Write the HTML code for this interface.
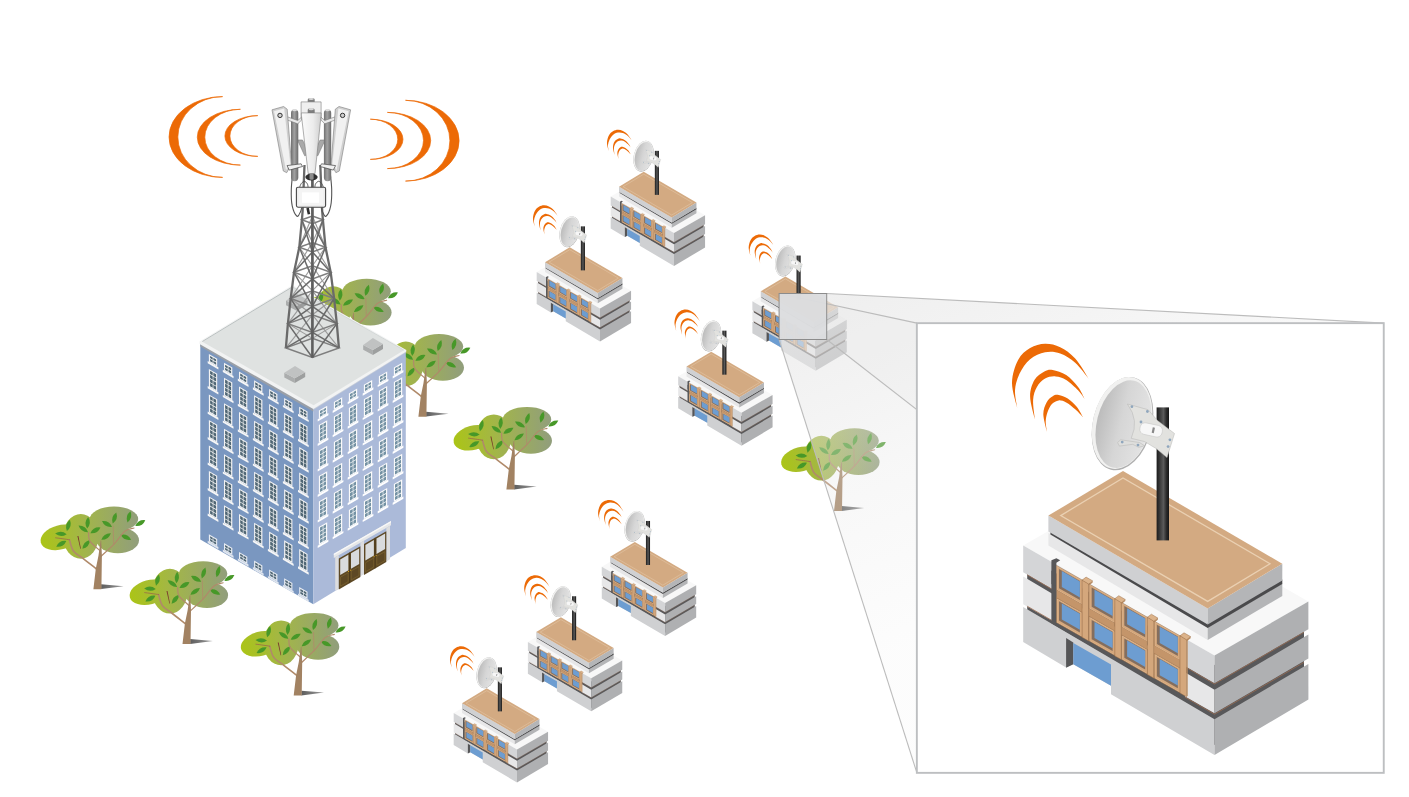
<!DOCTYPE html><html><head><meta charset="utf-8"><title>Wireless network diagram</title><style>html,body{margin:0;padding:0;background:#fff;overflow:hidden}svg{display:block}</style></head><body>
<svg width="1409" height="797" viewBox="0 0 1409 797">
<defs>
<linearGradient id="tg" gradientUnits="userSpaceOnUse" x1="-56.2" y1="0" x2="41.2" y2="0"><stop offset="0" stop-color="#abc418"/><stop offset="0.45" stop-color="#a2b54a"/><stop offset="1" stop-color="#919e7c"/></linearGradient>
<linearGradient id="tsh" x1="0" y1="0" x2="1" y2="0"><stop offset="0" stop-color="#5e5e5e"/><stop offset="1" stop-color="#9a9a9a"/></linearGradient>
<g id="tree">
<polygon points="3.7,-4.9 26.3,-3 3.7,-0.1" fill="url(#tsh)" />
<ellipse cx="-37.3" cy="-51.8" rx="20" ry="12.1" fill="url(#tg)" transform="rotate(-15 -37.3 -51.8)"/>
<ellipse cx="-16.6" cy="-52.8" rx="17.7" ry="22.4" fill="url(#tg)"/>
<ellipse cx="16.6" cy="-70.2" rx="24.2" ry="12.5" fill="url(#tg)"/>
<ellipse cx="20.5" cy="-48.9" rx="21.1" ry="13" fill="url(#tg)"/>
<ellipse cx="3.7" cy="-56" rx="9.2" ry="11.9" fill="url(#tg)"/>
<path d="M-5.8,0Q0,-4.3 5.8,0Q0,4.3 -5.8,0Z" fill="#479828" transform="translate(-29 -63.9) rotate(-75)"/>
<path d="M-5.8,0Q0,-4.3 5.8,0Q0,4.3 -5.8,0Z" fill="#479828" transform="translate(-36.5 -55.3) rotate(3)"/>
<path d="M-5.8,0Q0,-4.3 5.8,0Q0,4.3 -5.8,0Z" fill="#479828" transform="translate(-36.1 -45.4) rotate(-30)"/>
<path d="M-5.8,0Q0,-4.3 5.8,0Q0,4.3 -5.8,0Z" fill="#479828" transform="translate(-9.7 -66.5) rotate(-85)"/>
<path d="M-5.8,0Q0,-4.3 5.8,0Q0,4.3 -5.8,0Z" fill="#479828" transform="translate(-14.1 -60.3) rotate(35)"/>
<path d="M-5.8,0Q0,-4.3 5.8,0Q0,4.3 -5.8,0Z" fill="#479828" transform="translate(-2 -58.9) rotate(-30)"/>
<path d="M-5.8,0Q0,-4.3 5.8,0Q0,4.3 -5.8,0Z" fill="#479828" transform="translate(-11.2 -44.8) rotate(-50)"/>
<path d="M-5.8,0Q0,-4.3 5.8,0Q0,4.3 -5.8,0Z" fill="#479828" transform="translate(9.6 -65.2) rotate(30)"/>
<path d="M-5.8,0Q0,-4.3 5.8,0Q0,4.3 -5.8,0Z" fill="#479828" transform="translate(17.1 -71.1) rotate(-72)"/>
<path d="M-5.8,0Q0,-4.3 5.8,0Q0,4.3 -5.8,0Z" fill="#479828" transform="translate(8.7 -52.7) rotate(-35)"/>
<path d="M-5.8,0Q0,-4.3 5.8,0Q0,4.3 -5.8,0Z" fill="#479828" transform="translate(31.6 -72.4) rotate(-75)"/>
<path d="M-5.8,0Q0,-4.3 5.8,0Q0,4.3 -5.8,0Z" fill="#479828" transform="translate(28.5 -52) rotate(25)"/>
<path d="M-5.8,0Q0,-4.3 5.8,0Q0,4.3 -5.8,0Z" fill="#479828" transform="translate(42.9 -66.1) rotate(-30)"/>
<path d="M-0.9,-20.2C-3.2,-22 -10.9,-27.9 -14.8,-31C-18.6,-34 -21.8,-35.1 -24,-38.2C-26.2,-41.3 -27.3,-47.5 -27.9,-49.4" fill="none" stroke="#b08a6a" stroke-width="1.6" stroke-linecap="round"/>
<path d="M-27.9,-49.4C-29,-49.6 -32.2,-50.1 -34.5,-50.4C-36.8,-50.8 -40.5,-51.2 -41.8,-51.4" fill="none" stroke="#9a6a48" stroke-width="0.8" stroke-linecap="round"/>
<path d="M3,-38.2C1.3,-39.8 -5.5,-45 -7.5,-48.1C-9.5,-51.2 -8.6,-55.2 -8.8,-56.6" fill="none" stroke="#b08a6a" stroke-width="1.2" stroke-linecap="round"/>
<path d="M3.7,-32.9C5.9,-35 12.9,-41.3 16.9,-45.4C20.8,-49.6 24.1,-55.3 27.4,-58C30.7,-60.6 35.1,-60.7 36.6,-61.2" fill="none" stroke="#b08a6a" stroke-width="1.2" stroke-linecap="round"/>
<path d="M16.3,-44.8C16.2,-47.9 15.9,-60.2 15.8,-63.2" fill="none" stroke="#b08a6a" stroke-width="0.8" stroke-linecap="round"/>
<polygon points="-20,-53.1 -19,-53.1 -16.5,-40.4 -17.1,-40.4" fill="#7a3a2c" />
<polygon points="-4,0 4,0 4.5,-33.6 3.8,-48.7 3.2,-48.7 1.1,-33.6 -1.6,-20.4" fill="#a28262" />
</g>
<linearGradient id="poleg" x1="0" y1="0" x2="1" y2="0"><stop offset="0" stop-color="#1c1c1c"/><stop offset="0.55" stop-color="#5a5a5a"/><stop offset="0.8" stop-color="#2a2a2a"/><stop offset="1" stop-color="#161616"/></linearGradient>
<linearGradient id="dishg" x1="0" y1="0" x2="1" y2="0"><stop offset="0" stop-color="#bcbcbc"/><stop offset="0.45" stop-color="#d6d6d6"/><stop offset="1" stop-color="#e4e4e4"/></linearGradient>
<g id="house">
<polygon points="1027.2,560 1214.5,665 1304,612 1304,690 1214.5,745 1027.2,630" fill="#58585a" />
<polygon points="1023.2,545.4 1117.1,491.6 1308.4,601.6 1214.5,655.4" fill="#f8f8f8" />
<polygon points="1023.2,545.4 1214.5,655.4 1214.5,683.2 1023.2,572.3" fill="#d4d5d7" />
<polygon points="1023.2,576.6 1214.5,689.8 1214.5,713.3 1023.2,604.3" fill="#e7e7e8" />
<polygon points="1023.2,607.1 1214.5,719.3 1214.5,755.1 1111,694.2 1111,685.8 1073.3,664.2 1066.1,667.5 1023.2,641.9" fill="#cfd0d2" />
<line x1="1027.2" y1="574.8" x2="1214.5" y2="684" stroke="#9a6c52" stroke-width="0.8" />
<line x1="1027.2" y1="606.2" x2="1214.5" y2="714.2" stroke="#9a6c52" stroke-width="0.8" />
<polygon points="1214.5,655.4 1308.4,601.6 1308.4,629.2 1214.5,683.2" fill="#afb0b2" />
<polygon points="1214.5,689.8 1308.4,634.6 1308.4,658.6 1214.5,713.3" fill="#afb0b2" />
<polygon points="1214.5,719.3 1308.4,664 1308.4,699.4 1214.5,755.1" fill="#afb0b2" />
<line x1="1214.5" y1="684" x2="1304" y2="632.3" stroke="#9a6c52" stroke-width="0.8" />
<line x1="1214.5" y1="714.2" x2="1304" y2="662.3" stroke="#9a6c52" stroke-width="0.8" />
<polygon points="1051.4,570.6 1184.9,647 1184.9,699.7 1051.4,623.3" fill="#58585a" />
<polygon points="1051.4,560.2 1056.4,558.2 1060.2,560.2 1056.4,562.7 1056.4,586.6 1051.4,584" fill="#58585a" />
<polygon points="1056.5,565.5 1082.1,580.1 1082.1,604.7 1056.5,590.1" fill="#e3bd96" stroke="#96683f" stroke-width="0.45" stroke-linejoin="round"/>
<polygon points="1057.4,567 1082.1,581 1082.1,603.8 1057.4,589.8" fill="#d4a77c" />
<polygon points="1059,569 1079.9,580.9 1079.9,600.1 1059,588.3" fill="#846e5e" />
<polygon points="1061.8,571.1 1079.9,581.4 1079.9,597.4 1061.8,587.1" fill="#6d9dd1" />
<polygon points="1056.5,597.9 1060,595.4 1085.6,609.9 1082.1,612.4" fill="#e6c29c" stroke="#96683f" stroke-width="0.45" stroke-linejoin="round"/>
<polygon points="1056.5,589.8 1082.1,604.4 1082.1,612.4 1056.5,597.9" fill="#c4956a" />
<polygon points="1056.5,597.9 1082.1,612.4 1082.1,637 1056.5,622.5" fill="#e3bd96" stroke="#96683f" stroke-width="0.45" stroke-linejoin="round"/>
<polygon points="1057.4,599.3 1082.1,613.3 1082.1,636.1 1057.4,622.1" fill="#d4a77c" />
<polygon points="1059,601.3 1079.9,613.2 1079.9,632.5 1059,620.6" fill="#846e5e" />
<polygon points="1061.8,603.4 1079.9,613.7 1079.9,629.8 1061.8,619.5" fill="#6d9dd1" />
<polygon points="1082.1,579.9 1088.7,583.6 1088.7,641.1 1082.1,637.3" fill="#d4a77c" stroke="#96683f" stroke-width="0.45" stroke-linejoin="round"/>
<polygon points="1088.7,583.6 1089.9,582.8 1089.9,640.3 1088.7,641.1" fill="#b98d63" />
<polygon points="1088.7,584.1 1092.7,580.9 1092.7,582.5 1088.7,585.7" fill="#b98d63" />
<polygon points="1082.1,580.1 1086.1,577.1 1092.7,580.9 1088.7,584.1" fill="#dcb38a" stroke="#96683f" stroke-width="0.45" stroke-linejoin="round"/>
<polygon points="1089.2,584.1 1114.8,598.7 1114.8,623.3 1089.2,608.7" fill="#e3bd96" stroke="#96683f" stroke-width="0.45" stroke-linejoin="round"/>
<polygon points="1090.1,585.5 1114.8,599.6 1114.8,622.4 1090.1,608.3" fill="#d4a77c" />
<polygon points="1091.7,587.6 1112.6,599.4 1112.6,618.7 1091.7,606.8" fill="#846e5e" />
<polygon points="1094.5,589.7 1112.6,599.9 1112.6,616 1094.5,605.7" fill="#6d9dd1" />
<polygon points="1089.2,616.4 1092.7,613.9 1118.3,628.5 1114.8,631" fill="#e6c29c" stroke="#96683f" stroke-width="0.45" stroke-linejoin="round"/>
<polygon points="1089.2,608.4 1114.8,623 1114.8,631 1089.2,616.4" fill="#c4956a" />
<polygon points="1089.2,616.4 1114.8,631 1114.8,655.6 1089.2,641" fill="#e3bd96" stroke="#96683f" stroke-width="0.45" stroke-linejoin="round"/>
<polygon points="1090.1,617.9 1114.8,631.9 1114.8,654.7 1090.1,640.7" fill="#d4a77c" />
<polygon points="1091.7,619.9 1112.6,631.8 1112.6,651 1091.7,639.2" fill="#846e5e" />
<polygon points="1094.5,622 1112.6,632.3 1112.6,648.3 1094.5,638" fill="#6d9dd1" />
<polygon points="1114.8,598.5 1121.3,602.2 1121.3,659.6 1114.8,655.9" fill="#d4a77c" stroke="#96683f" stroke-width="0.45" stroke-linejoin="round"/>
<polygon points="1121.3,602.2 1122.5,601.4 1122.5,658.8 1121.3,659.6" fill="#b98d63" />
<polygon points="1121.3,602.7 1125.3,599.5 1125.3,601.1 1121.3,604.3" fill="#b98d63" />
<polygon points="1114.8,598.7 1118.8,595.7 1125.3,599.5 1121.3,602.7" fill="#dcb38a" stroke="#96683f" stroke-width="0.45" stroke-linejoin="round"/>
<polygon points="1121.8,602.7 1147.4,617.3 1147.4,641.9 1121.8,627.3" fill="#e3bd96" stroke="#96683f" stroke-width="0.45" stroke-linejoin="round"/>
<polygon points="1122.7,604.1 1147.4,618.2 1147.4,641 1122.7,626.9" fill="#d4a77c" />
<polygon points="1124.3,606.1 1145.2,618 1145.2,637.3 1124.3,625.4" fill="#846e5e" />
<polygon points="1127.1,608.2 1145.2,618.5 1145.2,634.6 1127.1,624.3" fill="#6d9dd1" />
<polygon points="1121.8,635 1125.3,632.5 1150.9,647.1 1147.4,649.6" fill="#e6c29c" stroke="#96683f" stroke-width="0.45" stroke-linejoin="round"/>
<polygon points="1121.8,627 1147.4,641.6 1147.4,649.6 1121.8,635" fill="#c4956a" />
<polygon points="1121.8,635 1147.4,649.6 1147.4,674.2 1121.8,659.6" fill="#e3bd96" stroke="#96683f" stroke-width="0.45" stroke-linejoin="round"/>
<polygon points="1122.7,636.4 1147.4,650.5 1147.4,673.3 1122.7,659.2" fill="#d4a77c" />
<polygon points="1124.3,638.5 1145.2,650.3 1145.2,669.6 1124.3,657.7" fill="#846e5e" />
<polygon points="1127.1,640.6 1145.2,650.8 1145.2,666.9 1127.1,656.6" fill="#6d9dd1" />
<polygon points="1147.4,617.1 1153.9,620.8 1153.9,678.2 1147.4,674.5" fill="#d4a77c" stroke="#96683f" stroke-width="0.45" stroke-linejoin="round"/>
<polygon points="1153.9,620.8 1155.1,620 1155.1,677.4 1153.9,678.2" fill="#b98d63" />
<polygon points="1153.9,621.3 1157.9,618.1 1157.9,619.7 1153.9,622.9" fill="#b98d63" />
<polygon points="1147.4,617.2 1151.4,614.2 1157.9,618.1 1153.9,621.3" fill="#dcb38a" stroke="#96683f" stroke-width="0.45" stroke-linejoin="round"/>
<polygon points="1154.4,621.3 1180,635.8 1180,660.4 1154.4,645.9" fill="#e3bd96" stroke="#96683f" stroke-width="0.45" stroke-linejoin="round"/>
<polygon points="1155.3,622.7 1180,636.7 1180,659.5 1155.3,645.5" fill="#d4a77c" />
<polygon points="1156.9,624.7 1177.8,636.6 1177.8,655.9 1156.9,644" fill="#846e5e" />
<polygon points="1159.7,626.8 1177.8,637.1 1177.8,653.2 1159.7,642.9" fill="#6d9dd1" />
<polygon points="1154.4,653.6 1157.9,651.1 1183.5,665.7 1180,668.2" fill="#e6c29c" stroke="#96683f" stroke-width="0.45" stroke-linejoin="round"/>
<polygon points="1154.4,645.6 1180,660.1 1180,668.2 1154.4,653.6" fill="#c4956a" />
<polygon points="1154.4,653.6 1180,668.2 1180,692.8 1154.4,678.2" fill="#e3bd96" stroke="#96683f" stroke-width="0.45" stroke-linejoin="round"/>
<polygon points="1155.3,655 1180,669.1 1180,691.9 1155.3,677.8" fill="#d4a77c" />
<polygon points="1156.9,657 1177.8,668.9 1177.8,688.2 1156.9,676.3" fill="#846e5e" />
<polygon points="1159.7,659.1 1177.8,669.4 1177.8,685.5 1159.7,675.2" fill="#6d9dd1" />
<polygon points="1180,635.6 1186.5,639.3 1186.5,696.8 1180,693.1" fill="#d4a77c" stroke="#96683f" stroke-width="0.45" stroke-linejoin="round"/>
<polygon points="1186.5,639.3 1187.7,638.5 1187.7,696 1186.5,696.8" fill="#b98d63" />
<polygon points="1186.5,639.8 1190.6,636.6 1190.6,638.2 1186.5,641.4" fill="#b98d63" />
<polygon points="1180,635.8 1184,632.8 1190.6,636.6 1186.5,639.8" fill="#dcb38a" stroke="#96683f" stroke-width="0.45" stroke-linejoin="round"/>
<polygon points="1066.1,638.1 1073.3,642.6 1073.3,664.2 1066.1,667.7" fill="#555557" />
<polygon points="1073.3,642.9 1111,664.4 1111,685.8 1073.3,664.2" fill="#6d9dd1" />
<polygon points="1048.4,533 1207.7,627.2 1207.7,639.9 1048.4,545.6" fill="#e7e7e8" />
<polygon points="1207.7,627.2 1282.3,583.4 1282.3,596 1207.7,639.9" fill="#b4b5b7" />
<polygon points="1050.4,530.5 1207.7,623.5 1282.3,579.5 1282.3,584 1207.7,628 1050.4,534.5" fill="#4a4a4c" />
<polygon points="1048.4,515.6 1207.7,608.4 1207.7,624.6 1048.4,531.6" fill="#cfd0d2" />
<polygon points="1207.7,608.4 1282.3,563.7 1282.3,580.4 1207.7,624.6" fill="#b4b5b7" />
<polygon points="1048.4,515.6 1123,470.9 1282.3,563.7 1207.7,608.4" fill="#d3aa82" />
<polygon points="1060.7,515.6 1123,477.9 1270,563.7 1207.7,601.4" fill="none" stroke="#ead0b2" stroke-width="1.3"/>
<rect x="1156.6" y="407.4" width="12.4" height="133" fill="url(#poleg)"/>
<g transform="rotate(14 1122.2 423.2)">
<ellipse cx="1122.6" cy="423.6" rx="29.5" ry="47.5" fill="#b0b0b0"/>
<ellipse cx="1122.0" cy="423.0" rx="29.0" ry="46.8" fill="#f1f1f0"/>
<ellipse cx="1123.6" cy="423.8" rx="26.6" ry="44.6" fill="url(#dishg)"/>
</g>
<polygon points="1117.6,442.5 1120.7,439.8 1139.5,442.5 1144.7,445.8 1138.7,447.3 1132.7,444.3 1119.4,446.1" fill="#dededc" stroke="#b5b5b3" stroke-width="0.5" stroke-linejoin="round"/>
<path d="M1127.4,404L1148.1,409.7L1157.5,420.5L1174.5,433.5L1167,457.6L1156.5,448.8L1144.7,441.6L1131.2,438.3Q1139.5,420.2 1127.4,404Z" fill="#e2e2df" stroke="#b5b5b3" stroke-width="0.5" stroke-linejoin="round"/>
<g transform="rotate(12 1150.8 429.6)"><rect x="1139.9" y="424" width="22.6" height="11.7" rx="5" fill="#f7f7f7" stroke="#c4c4c4" stroke-width="0.5"/><rect x="1152.3" y="427" width="2.2" height="5.5" fill="#888"/></g>
<circle cx="1131.9" cy="406.7" r="1.4" fill="#8fa6bd"/>
<circle cx="1147.4" cy="411.5" r="1.4" fill="#8fa6bd"/>
<circle cx="1122.2" cy="442.1" r="1.4" fill="#8fa6bd"/>
<circle cx="1138" cy="445.1" r="1.4" fill="#8fa6bd"/>
<circle cx="1141" cy="422" r="1.4" fill="#8fa6bd"/>
<circle cx="1169.9" cy="439.8" r="1.4" fill="#8fa6bd"/>
<circle cx="1168.1" cy="446.6" r="1.4" fill="#8fa6bd"/>
<path d="M1017.3,408.3C1016.4,404 1011.9,390.7 1012,382.7C1012.2,374.6 1015,365.9 1018.1,360.1C1021.1,354.3 1025.6,350.8 1030.1,348.1C1034.6,345.3 1040.1,344 1045.1,343.8C1050.2,343.7 1055.2,344.8 1060.2,347.3C1065.2,349.8 1070.5,353.3 1075.2,358.6C1080,363.9 1086.5,375.5 1088.8,378.9C1086.5,376.2 1080,367 1075.2,362.8C1070.5,358.6 1065.2,355.2 1060.2,353.5C1055.2,351.7 1050.2,351.3 1045.1,352.3C1040.1,353.3 1034.4,355.8 1030.1,359.3C1025.8,362.9 1022.1,368.5 1019.6,373.6C1017.1,378.8 1015.4,384.4 1015,390.2C1014.7,396 1016.9,405.2 1017.3,408.3Z" fill="#ec6a06"/>
<path d="M1034.9,419.5C1034.1,415.7 1030.1,402.9 1030.1,396.2C1030,389.6 1032.2,383.8 1034.6,379.7C1037,375.5 1041.4,373.2 1044.4,371.5C1047.4,369.9 1049,369.3 1052.7,369.9C1056.3,370.5 1062,372.3 1066.2,375.1C1070.5,378 1075.2,383.2 1078.3,387.2C1081.3,391.1 1083.5,397 1084.6,398.9C1083.5,397.5 1081.3,393.7 1078.3,390.5C1075.2,387.3 1070,382.3 1066.2,380C1062.5,377.6 1059.2,376.6 1055.7,376.4C1052.2,376.1 1048.3,376.7 1045.1,378.5C1042,380.2 1038.9,383.3 1036.9,386.9C1034.9,390.5 1033.4,394.5 1033.1,400C1032.8,405.4 1034.6,416.3 1034.9,419.5Z" fill="#ec6a06"/>
<path d="M1047,432.3C1046.4,429.3 1043.4,419.3 1043.3,414.3C1043.3,409.3 1045.1,405.2 1046.7,402.2C1048.2,399.2 1050.7,397.4 1052.7,396.2C1054.7,395 1056.2,394.6 1058.7,395C1061.2,395.4 1064.7,396.5 1067.7,398.5C1070.7,400.4 1074.2,403.6 1076.7,406.7C1079.3,409.9 1082,415.5 1083.1,417.3C1081.8,416 1078.1,411.8 1075.2,409.3C1072.4,406.8 1069,404 1066.2,402.5C1063.5,401.1 1061.1,400.2 1058.7,400.4C1056.3,400.7 1053.8,402 1051.9,404C1050,406 1048.4,409.5 1047.4,412.5C1046.4,415.4 1045.8,418.5 1045.7,421.8C1045.7,425.1 1046.8,430.6 1047,432.3Z" fill="#ec6a06"/>
</g>
<linearGradient id="coneg" gradientUnits="userSpaceOnUse" x1="800" y1="316" x2="925" y2="640"><stop offset="0" stop-color="#e8e8e8" stop-opacity="0.68"/><stop offset="0.5" stop-color="#e6e6e6" stop-opacity="0.30"/><stop offset="1" stop-color="#e6e6e6" stop-opacity="0.10"/></linearGradient>
</defs>
<rect width="1409" height="797" fill="#fff"/>
<use href="#tree" x="350" y="361.4" />
<use href="#tree" x="422.4" y="416.7" />
<polygon points="200.3,342.5 313.3,407.5 313.3,604.3 200.3,539.5" fill="#7a97c0" />
<polygon points="313.3,407.5 405.8,351 405.8,548 313.3,604.3" fill="#abbad9" />
<polygon points="200.3,343.5 313.3,408.5 313.3,411.5 200.3,346.5" fill="#9a9fa6" />
<polygon points="313.3,408.5 405.8,351.4 405.8,352.4 313.3,409.9" fill="#c4cbd8" />
<polygon points="199.5,341.5 292.5,285 406.3,350 406.3,351.5 313.3,408.9 199.5,343.9" fill="#f2f3f3" />
<polygon points="202.3,341.7 292.5,287 403.9,350.3 313.6,405.2" fill="#dfe2e1" />
<line x1="202.3" y1="341.5" x2="292.5" y2="286.8" stroke="#b4bbbb" stroke-width="0.9" />
<line x1="292.5" y1="286.8" x2="403.9" y2="350.1" stroke="#c9cece" stroke-width="0.7" />
<polygon points="208.9,354 217.2,358.8 217.2,366.5 208.9,361.7" fill="#f3f3f3" />
<polygon points="207.7,361 218.4,367.2 218.4,369.4 207.7,363.2" fill="#f6f6f6" />
<polygon points="210.1,355.9 212.7,357.4 212.7,359.7 210.1,358.1" fill="#4f6674" />
<polygon points="210.1,358.9 212.7,360.4 212.7,362.7 210.1,361.2" fill="#4f6674" />
<polygon points="213.4,357.8 216.1,359.4 216.1,361.6 213.4,360.1" fill="#4f6674" />
<polygon points="213.4,360.9 216.1,362.4 216.1,364.7 213.4,363.1" fill="#4f6674" />
<polygon points="208.9,368.9 217.2,373.7 217.2,391.6 208.9,386.8" fill="#f3f3f3" />
<polygon points="207.7,386.1 218.4,392.3 218.4,394.5 207.7,388.3" fill="#f6f6f6" />
<polygon points="210.1,370.8 212.7,372.3 212.7,375.6 210.1,374.1" fill="#4f6674" />
<polygon points="210.1,374.8 212.7,376.4 212.7,379.7 210.1,378.1" fill="#4f6674" />
<polygon points="210.1,378.9 212.7,380.4 212.7,383.7 210.1,382.2" fill="#4f6674" />
<polygon points="210.1,383 212.7,384.5 212.7,387.8 210.1,386.3" fill="#4f6674" />
<polygon points="213.4,372.7 216.1,374.3 216.1,377.6 213.4,376.1" fill="#4f6674" />
<polygon points="213.4,376.8 216.1,378.3 216.1,381.6 213.4,380.1" fill="#4f6674" />
<polygon points="213.4,380.9 216.1,382.4 216.1,385.7 213.4,384.2" fill="#4f6674" />
<polygon points="213.4,384.9 216.1,386.5 216.1,389.8 213.4,388.2" fill="#4f6674" />
<polygon points="208.9,394.4 217.2,399.2 217.2,417.1 208.9,412.3" fill="#f3f3f3" />
<polygon points="207.7,411.6 218.4,417.8 218.4,420 207.7,413.8" fill="#f6f6f6" />
<polygon points="210.1,396.3 212.7,397.8 212.7,401.1 210.1,399.6" fill="#4f6674" />
<polygon points="210.1,400.3 212.7,401.9 212.7,405.2 210.1,403.6" fill="#4f6674" />
<polygon points="210.1,404.4 212.7,405.9 212.7,409.2 210.1,407.7" fill="#4f6674" />
<polygon points="210.1,408.5 212.7,410 212.7,413.3 210.1,411.8" fill="#4f6674" />
<polygon points="213.4,398.2 216.1,399.8 216.1,403.1 213.4,401.6" fill="#4f6674" />
<polygon points="213.4,402.3 216.1,403.8 216.1,407.1 213.4,405.6" fill="#4f6674" />
<polygon points="213.4,406.4 216.1,407.9 216.1,411.2 213.4,409.7" fill="#4f6674" />
<polygon points="213.4,410.4 216.1,412 216.1,415.3 213.4,413.7" fill="#4f6674" />
<polygon points="208.9,419.9 217.2,424.7 217.2,442.6 208.9,437.8" fill="#f3f3f3" />
<polygon points="207.7,437.1 218.4,443.3 218.4,445.5 207.7,439.3" fill="#f6f6f6" />
<polygon points="210.1,421.8 212.7,423.3 212.7,426.6 210.1,425.1" fill="#4f6674" />
<polygon points="210.1,425.8 212.7,427.4 212.7,430.7 210.1,429.1" fill="#4f6674" />
<polygon points="210.1,429.9 212.7,431.4 212.7,434.7 210.1,433.2" fill="#4f6674" />
<polygon points="210.1,434 212.7,435.5 212.7,438.8 210.1,437.3" fill="#4f6674" />
<polygon points="213.4,423.7 216.1,425.3 216.1,428.6 213.4,427.1" fill="#4f6674" />
<polygon points="213.4,427.8 216.1,429.3 216.1,432.6 213.4,431.1" fill="#4f6674" />
<polygon points="213.4,431.9 216.1,433.4 216.1,436.7 213.4,435.2" fill="#4f6674" />
<polygon points="213.4,435.9 216.1,437.5 216.1,440.8 213.4,439.2" fill="#4f6674" />
<polygon points="208.9,445.4 217.2,450.2 217.2,468.1 208.9,463.3" fill="#f3f3f3" />
<polygon points="207.7,462.6 218.4,468.8 218.4,471 207.7,464.8" fill="#f6f6f6" />
<polygon points="210.1,447.3 212.7,448.8 212.7,452.1 210.1,450.6" fill="#4f6674" />
<polygon points="210.1,451.3 212.7,452.9 212.7,456.2 210.1,454.6" fill="#4f6674" />
<polygon points="210.1,455.4 212.7,456.9 212.7,460.2 210.1,458.7" fill="#4f6674" />
<polygon points="210.1,459.5 212.7,461 212.7,464.3 210.1,462.8" fill="#4f6674" />
<polygon points="213.4,449.2 216.1,450.8 216.1,454.1 213.4,452.6" fill="#4f6674" />
<polygon points="213.4,453.3 216.1,454.8 216.1,458.1 213.4,456.6" fill="#4f6674" />
<polygon points="213.4,457.4 216.1,458.9 216.1,462.2 213.4,460.7" fill="#4f6674" />
<polygon points="213.4,461.4 216.1,463 216.1,466.3 213.4,464.7" fill="#4f6674" />
<polygon points="208.9,470.9 217.2,475.7 217.2,493.6 208.9,488.8" fill="#f3f3f3" />
<polygon points="207.7,488.1 218.4,494.3 218.4,496.5 207.7,490.3" fill="#f6f6f6" />
<polygon points="210.1,472.8 212.7,474.3 212.7,477.6 210.1,476.1" fill="#4f6674" />
<polygon points="210.1,476.8 212.7,478.4 212.7,481.7 210.1,480.1" fill="#4f6674" />
<polygon points="210.1,480.9 212.7,482.4 212.7,485.7 210.1,484.2" fill="#4f6674" />
<polygon points="210.1,485 212.7,486.5 212.7,489.8 210.1,488.3" fill="#4f6674" />
<polygon points="213.4,474.7 216.1,476.3 216.1,479.6 213.4,478.1" fill="#4f6674" />
<polygon points="213.4,478.8 216.1,480.3 216.1,483.6 213.4,482.1" fill="#4f6674" />
<polygon points="213.4,482.9 216.1,484.4 216.1,487.7 213.4,486.2" fill="#4f6674" />
<polygon points="213.4,486.9 216.1,488.5 216.1,491.8 213.4,490.2" fill="#4f6674" />
<polygon points="208.9,496.4 217.2,501.2 217.2,519.1 208.9,514.3" fill="#f3f3f3" />
<polygon points="207.7,513.6 218.4,519.8 218.4,522 207.7,515.8" fill="#f6f6f6" />
<polygon points="210.1,498.3 212.7,499.8 212.7,503.1 210.1,501.6" fill="#4f6674" />
<polygon points="210.1,502.3 212.7,503.9 212.7,507.2 210.1,505.6" fill="#4f6674" />
<polygon points="210.1,506.4 212.7,507.9 212.7,511.2 210.1,509.7" fill="#4f6674" />
<polygon points="210.1,510.5 212.7,512 212.7,515.3 210.1,513.8" fill="#4f6674" />
<polygon points="213.4,500.2 216.1,501.8 216.1,505.1 213.4,503.6" fill="#4f6674" />
<polygon points="213.4,504.3 216.1,505.8 216.1,509.1 213.4,507.6" fill="#4f6674" />
<polygon points="213.4,508.4 216.1,509.9 216.1,513.2 213.4,511.7" fill="#4f6674" />
<polygon points="213.4,512.4 216.1,514 216.1,517.3 213.4,515.7" fill="#4f6674" />
<polygon points="208.9,534.3 217.2,539.1 217.2,546.3 208.9,541.5" fill="#e9edf3" />
<polygon points="207.7,540.8 218.4,547 218.4,549.2 207.7,543" fill="#dfe5ee" />
<polygon points="210.1,536.2 212.7,537.7 212.7,539.7 210.1,538.2" fill="#4f6674" />
<polygon points="210.1,538.9 212.7,540.5 212.7,542.5 210.1,541" fill="#4f6674" />
<polygon points="213.4,538.1 216.1,539.7 216.1,541.7 213.4,540.2" fill="#4f6674" />
<polygon points="213.4,540.9 216.1,542.4 216.1,544.5 213.4,542.9" fill="#4f6674" />
<polygon points="224,362.8 232.3,367.6 232.3,375.3 224,370.5" fill="#f3f3f3" />
<polygon points="222.8,369.8 233.5,376 233.5,378.2 222.8,372" fill="#f6f6f6" />
<polygon points="225.1,364.7 227.7,366.2 227.7,368.5 225.1,366.9" fill="#4f6674" />
<polygon points="225.1,367.7 227.7,369.2 227.7,371.5 225.1,370" fill="#4f6674" />
<polygon points="228.5,366.6 231.1,368.1 231.1,370.4 228.5,368.9" fill="#4f6674" />
<polygon points="228.5,369.6 231.1,371.2 231.1,373.4 228.5,371.9" fill="#4f6674" />
<polygon points="224,377.7 232.3,382.5 232.3,400.4 224,395.6" fill="#f3f3f3" />
<polygon points="222.8,394.9 233.5,401.1 233.5,403.3 222.8,397.1" fill="#f6f6f6" />
<polygon points="225.1,379.6 227.7,381.1 227.7,384.4 225.1,382.9" fill="#4f6674" />
<polygon points="225.1,383.6 227.7,385.1 227.7,388.5 225.1,386.9" fill="#4f6674" />
<polygon points="225.1,387.7 227.7,389.2 227.7,392.5 225.1,391" fill="#4f6674" />
<polygon points="225.1,391.7 227.7,393.3 227.7,396.6 225.1,395.1" fill="#4f6674" />
<polygon points="228.5,381.5 231.1,383 231.1,386.4 228.5,384.8" fill="#4f6674" />
<polygon points="228.5,385.6 231.1,387.1 231.1,390.4 228.5,388.9" fill="#4f6674" />
<polygon points="228.5,389.6 231.1,391.2 231.1,394.5 228.5,393" fill="#4f6674" />
<polygon points="228.5,393.7 231.1,395.2 231.1,398.5 228.5,397" fill="#4f6674" />
<polygon points="224,403.2 232.3,408 232.3,425.9 224,421.1" fill="#f3f3f3" />
<polygon points="222.8,420.4 233.5,426.6 233.5,428.8 222.8,422.6" fill="#f6f6f6" />
<polygon points="225.1,405.1 227.7,406.6 227.7,409.9 225.1,408.4" fill="#4f6674" />
<polygon points="225.1,409.1 227.7,410.6 227.7,414 225.1,412.4" fill="#4f6674" />
<polygon points="225.1,413.2 227.7,414.7 227.7,418 225.1,416.5" fill="#4f6674" />
<polygon points="225.1,417.2 227.7,418.8 227.7,422.1 225.1,420.6" fill="#4f6674" />
<polygon points="228.5,407 231.1,408.5 231.1,411.9 228.5,410.3" fill="#4f6674" />
<polygon points="228.5,411.1 231.1,412.6 231.1,415.9 228.5,414.4" fill="#4f6674" />
<polygon points="228.5,415.1 231.1,416.7 231.1,420 228.5,418.5" fill="#4f6674" />
<polygon points="228.5,419.2 231.1,420.7 231.1,424 228.5,422.5" fill="#4f6674" />
<polygon points="224,428.7 232.3,433.5 232.3,451.4 224,446.6" fill="#f3f3f3" />
<polygon points="222.8,445.9 233.5,452.1 233.5,454.3 222.8,448.1" fill="#f6f6f6" />
<polygon points="225.1,430.6 227.7,432.1 227.7,435.4 225.1,433.9" fill="#4f6674" />
<polygon points="225.1,434.6 227.7,436.1 227.7,439.5 225.1,437.9" fill="#4f6674" />
<polygon points="225.1,438.7 227.7,440.2 227.7,443.5 225.1,442" fill="#4f6674" />
<polygon points="225.1,442.7 227.7,444.3 227.7,447.6 225.1,446.1" fill="#4f6674" />
<polygon points="228.5,432.5 231.1,434 231.1,437.4 228.5,435.8" fill="#4f6674" />
<polygon points="228.5,436.6 231.1,438.1 231.1,441.4 228.5,439.9" fill="#4f6674" />
<polygon points="228.5,440.6 231.1,442.2 231.1,445.5 228.5,444" fill="#4f6674" />
<polygon points="228.5,444.7 231.1,446.2 231.1,449.5 228.5,448" fill="#4f6674" />
<polygon points="224,454.2 232.3,459 232.3,476.9 224,472.1" fill="#f3f3f3" />
<polygon points="222.8,471.4 233.5,477.6 233.5,479.8 222.8,473.6" fill="#f6f6f6" />
<polygon points="225.1,456.1 227.7,457.6 227.7,460.9 225.1,459.4" fill="#4f6674" />
<polygon points="225.1,460.1 227.7,461.6 227.7,465 225.1,463.4" fill="#4f6674" />
<polygon points="225.1,464.2 227.7,465.7 227.7,469 225.1,467.5" fill="#4f6674" />
<polygon points="225.1,468.2 227.7,469.8 227.7,473.1 225.1,471.6" fill="#4f6674" />
<polygon points="228.5,458 231.1,459.5 231.1,462.9 228.5,461.3" fill="#4f6674" />
<polygon points="228.5,462.1 231.1,463.6 231.1,466.9 228.5,465.4" fill="#4f6674" />
<polygon points="228.5,466.1 231.1,467.7 231.1,471 228.5,469.5" fill="#4f6674" />
<polygon points="228.5,470.2 231.1,471.7 231.1,475 228.5,473.5" fill="#4f6674" />
<polygon points="224,479.7 232.3,484.5 232.3,502.4 224,497.6" fill="#f3f3f3" />
<polygon points="222.8,496.9 233.5,503.1 233.5,505.3 222.8,499.1" fill="#f6f6f6" />
<polygon points="225.1,481.6 227.7,483.1 227.7,486.4 225.1,484.9" fill="#4f6674" />
<polygon points="225.1,485.6 227.7,487.1 227.7,490.5 225.1,488.9" fill="#4f6674" />
<polygon points="225.1,489.7 227.7,491.2 227.7,494.5 225.1,493" fill="#4f6674" />
<polygon points="225.1,493.7 227.7,495.3 227.7,498.6 225.1,497.1" fill="#4f6674" />
<polygon points="228.5,483.5 231.1,485 231.1,488.4 228.5,486.8" fill="#4f6674" />
<polygon points="228.5,487.6 231.1,489.1 231.1,492.4 228.5,490.9" fill="#4f6674" />
<polygon points="228.5,491.6 231.1,493.2 231.1,496.5 228.5,495" fill="#4f6674" />
<polygon points="228.5,495.7 231.1,497.2 231.1,500.5 228.5,499" fill="#4f6674" />
<polygon points="224,505.2 232.3,510 232.3,527.9 224,523.1" fill="#f3f3f3" />
<polygon points="222.8,522.4 233.5,528.6 233.5,530.8 222.8,524.6" fill="#f6f6f6" />
<polygon points="225.1,507.1 227.7,508.6 227.7,511.9 225.1,510.4" fill="#4f6674" />
<polygon points="225.1,511.1 227.7,512.6 227.7,516 225.1,514.4" fill="#4f6674" />
<polygon points="225.1,515.2 227.7,516.7 227.7,520 225.1,518.5" fill="#4f6674" />
<polygon points="225.1,519.2 227.7,520.8 227.7,524.1 225.1,522.6" fill="#4f6674" />
<polygon points="228.5,509 231.1,510.5 231.1,513.9 228.5,512.3" fill="#4f6674" />
<polygon points="228.5,513.1 231.1,514.6 231.1,517.9 228.5,516.4" fill="#4f6674" />
<polygon points="228.5,517.1 231.1,518.7 231.1,522 228.5,520.5" fill="#4f6674" />
<polygon points="228.5,521.2 231.1,522.7 231.1,526 228.5,524.5" fill="#4f6674" />
<polygon points="224,543.1 232.3,547.9 232.3,555.1 224,550.3" fill="#e9edf3" />
<polygon points="222.8,549.6 233.5,555.8 233.5,558 222.8,551.8" fill="#dfe5ee" />
<polygon points="225.1,545 227.7,546.5 227.7,548.5 225.1,547" fill="#4f6674" />
<polygon points="225.1,547.7 227.7,549.3 227.7,551.3 225.1,549.8" fill="#4f6674" />
<polygon points="228.5,546.9 231.1,548.4 231.1,550.5 228.5,548.9" fill="#4f6674" />
<polygon points="228.5,549.7 231.1,551.2 231.1,553.2 228.5,551.7" fill="#4f6674" />
<polygon points="239,371.6 247.3,376.4 247.3,384.1 239,379.3" fill="#f3f3f3" />
<polygon points="237.8,378.6 248.5,384.8 248.5,387 237.8,380.8" fill="#f6f6f6" />
<polygon points="240.2,373.4 242.8,375 242.8,377.2 240.2,375.7" fill="#4f6674" />
<polygon points="240.2,376.5 242.8,378 242.8,380.3 240.2,378.7" fill="#4f6674" />
<polygon points="243.5,375.4 246.2,376.9 246.2,379.2 243.5,377.7" fill="#4f6674" />
<polygon points="243.5,378.4 246.2,380 246.2,382.2 243.5,380.7" fill="#4f6674" />
<polygon points="239,386.5 247.3,391.3 247.3,409.2 239,404.4" fill="#f3f3f3" />
<polygon points="237.8,403.7 248.5,409.9 248.5,412.1 237.8,405.9" fill="#f6f6f6" />
<polygon points="240.2,388.3 242.8,389.9 242.8,393.2 240.2,391.6" fill="#4f6674" />
<polygon points="240.2,392.4 242.8,393.9 242.8,397.2 240.2,395.7" fill="#4f6674" />
<polygon points="240.2,396.5 242.8,398 242.8,401.3 240.2,399.8" fill="#4f6674" />
<polygon points="240.2,400.5 242.8,402 242.8,405.4 240.2,403.8" fill="#4f6674" />
<polygon points="243.5,390.3 246.2,391.8 246.2,395.1 243.5,393.6" fill="#4f6674" />
<polygon points="243.5,394.4 246.2,395.9 246.2,399.2 243.5,397.7" fill="#4f6674" />
<polygon points="243.5,398.4 246.2,400 246.2,403.3 243.5,401.7" fill="#4f6674" />
<polygon points="243.5,402.5 246.2,404 246.2,407.3 243.5,405.8" fill="#4f6674" />
<polygon points="239,412 247.3,416.8 247.3,434.7 239,429.9" fill="#f3f3f3" />
<polygon points="237.8,429.2 248.5,435.4 248.5,437.6 237.8,431.4" fill="#f6f6f6" />
<polygon points="240.2,413.8 242.8,415.4 242.8,418.7 240.2,417.1" fill="#4f6674" />
<polygon points="240.2,417.9 242.8,419.4 242.8,422.7 240.2,421.2" fill="#4f6674" />
<polygon points="240.2,422 242.8,423.5 242.8,426.8 240.2,425.3" fill="#4f6674" />
<polygon points="240.2,426 242.8,427.5 242.8,430.9 240.2,429.3" fill="#4f6674" />
<polygon points="243.5,415.8 246.2,417.3 246.2,420.6 243.5,419.1" fill="#4f6674" />
<polygon points="243.5,419.9 246.2,421.4 246.2,424.7 243.5,423.2" fill="#4f6674" />
<polygon points="243.5,423.9 246.2,425.5 246.2,428.8 243.5,427.2" fill="#4f6674" />
<polygon points="243.5,428 246.2,429.5 246.2,432.8 243.5,431.3" fill="#4f6674" />
<polygon points="239,437.5 247.3,442.3 247.3,460.2 239,455.4" fill="#f3f3f3" />
<polygon points="237.8,454.7 248.5,460.9 248.5,463.1 237.8,456.9" fill="#f6f6f6" />
<polygon points="240.2,439.3 242.8,440.9 242.8,444.2 240.2,442.6" fill="#4f6674" />
<polygon points="240.2,443.4 242.8,444.9 242.8,448.2 240.2,446.7" fill="#4f6674" />
<polygon points="240.2,447.5 242.8,449 242.8,452.3 240.2,450.8" fill="#4f6674" />
<polygon points="240.2,451.5 242.8,453 242.8,456.4 240.2,454.8" fill="#4f6674" />
<polygon points="243.5,441.3 246.2,442.8 246.2,446.1 243.5,444.6" fill="#4f6674" />
<polygon points="243.5,445.4 246.2,446.9 246.2,450.2 243.5,448.7" fill="#4f6674" />
<polygon points="243.5,449.4 246.2,451 246.2,454.3 243.5,452.7" fill="#4f6674" />
<polygon points="243.5,453.5 246.2,455 246.2,458.3 243.5,456.8" fill="#4f6674" />
<polygon points="239,463 247.3,467.8 247.3,485.7 239,480.9" fill="#f3f3f3" />
<polygon points="237.8,480.2 248.5,486.4 248.5,488.6 237.8,482.4" fill="#f6f6f6" />
<polygon points="240.2,464.8 242.8,466.4 242.8,469.7 240.2,468.1" fill="#4f6674" />
<polygon points="240.2,468.9 242.8,470.4 242.8,473.7 240.2,472.2" fill="#4f6674" />
<polygon points="240.2,473 242.8,474.5 242.8,477.8 240.2,476.3" fill="#4f6674" />
<polygon points="240.2,477 242.8,478.5 242.8,481.9 240.2,480.3" fill="#4f6674" />
<polygon points="243.5,466.8 246.2,468.3 246.2,471.6 243.5,470.1" fill="#4f6674" />
<polygon points="243.5,470.9 246.2,472.4 246.2,475.7 243.5,474.2" fill="#4f6674" />
<polygon points="243.5,474.9 246.2,476.5 246.2,479.8 243.5,478.2" fill="#4f6674" />
<polygon points="243.5,479 246.2,480.5 246.2,483.8 243.5,482.3" fill="#4f6674" />
<polygon points="239,488.5 247.3,493.3 247.3,511.2 239,506.4" fill="#f3f3f3" />
<polygon points="237.8,505.7 248.5,511.9 248.5,514.1 237.8,507.9" fill="#f6f6f6" />
<polygon points="240.2,490.3 242.8,491.9 242.8,495.2 240.2,493.6" fill="#4f6674" />
<polygon points="240.2,494.4 242.8,495.9 242.8,499.2 240.2,497.7" fill="#4f6674" />
<polygon points="240.2,498.5 242.8,500 242.8,503.3 240.2,501.8" fill="#4f6674" />
<polygon points="240.2,502.5 242.8,504 242.8,507.4 240.2,505.8" fill="#4f6674" />
<polygon points="243.5,492.3 246.2,493.8 246.2,497.1 243.5,495.6" fill="#4f6674" />
<polygon points="243.5,496.4 246.2,497.9 246.2,501.2 243.5,499.7" fill="#4f6674" />
<polygon points="243.5,500.4 246.2,502 246.2,505.3 243.5,503.7" fill="#4f6674" />
<polygon points="243.5,504.5 246.2,506 246.2,509.3 243.5,507.8" fill="#4f6674" />
<polygon points="239,514 247.3,518.8 247.3,536.7 239,531.9" fill="#f3f3f3" />
<polygon points="237.8,531.2 248.5,537.4 248.5,539.6 237.8,533.4" fill="#f6f6f6" />
<polygon points="240.2,515.8 242.8,517.4 242.8,520.7 240.2,519.1" fill="#4f6674" />
<polygon points="240.2,519.9 242.8,521.4 242.8,524.7 240.2,523.2" fill="#4f6674" />
<polygon points="240.2,524 242.8,525.5 242.8,528.8 240.2,527.3" fill="#4f6674" />
<polygon points="240.2,528 242.8,529.5 242.8,532.9 240.2,531.3" fill="#4f6674" />
<polygon points="243.5,517.8 246.2,519.3 246.2,522.6 243.5,521.1" fill="#4f6674" />
<polygon points="243.5,521.9 246.2,523.4 246.2,526.7 243.5,525.2" fill="#4f6674" />
<polygon points="243.5,525.9 246.2,527.5 246.2,530.8 243.5,529.2" fill="#4f6674" />
<polygon points="243.5,530 246.2,531.5 246.2,534.8 243.5,533.3" fill="#4f6674" />
<polygon points="239,551.9 247.3,556.7 247.3,563.9 239,559.1" fill="#e9edf3" />
<polygon points="237.8,558.4 248.5,564.6 248.5,566.8 237.8,560.6" fill="#dfe5ee" />
<polygon points="240.2,553.7 242.8,555.3 242.8,557.3 240.2,555.8" fill="#4f6674" />
<polygon points="240.2,556.5 242.8,558 242.8,560.1 240.2,558.5" fill="#4f6674" />
<polygon points="243.5,555.7 246.2,557.2 246.2,559.3 243.5,557.7" fill="#4f6674" />
<polygon points="243.5,558.5 246.2,560 246.2,562 243.5,560.5" fill="#4f6674" />
<polygon points="254.1,380.3 262.4,385.2 262.4,392.9 254.1,388" fill="#f3f3f3" />
<polygon points="252.9,387.3 263.6,393.6 263.6,395.8 252.9,389.5" fill="#f6f6f6" />
<polygon points="255.2,382.2 257.8,383.7 257.8,386 255.2,384.5" fill="#4f6674" />
<polygon points="255.2,385.2 257.8,386.8 257.8,389 255.2,387.5" fill="#4f6674" />
<polygon points="258.6,384.2 261.2,385.7 261.2,388 258.6,386.5" fill="#4f6674" />
<polygon points="258.6,387.2 261.2,388.7 261.2,391 258.6,389.5" fill="#4f6674" />
<polygon points="254.1,395.2 262.4,400.1 262.4,418 254.1,413.1" fill="#f3f3f3" />
<polygon points="252.9,412.4 263.6,418.7 263.6,420.9 252.9,414.6" fill="#f6f6f6" />
<polygon points="255.2,397.1 257.8,398.6 257.8,402 255.2,400.4" fill="#4f6674" />
<polygon points="255.2,401.2 257.8,402.7 257.8,406 255.2,404.5" fill="#4f6674" />
<polygon points="255.2,405.2 257.8,406.8 257.8,410.1 255.2,408.5" fill="#4f6674" />
<polygon points="255.2,409.3 257.8,410.8 257.8,414.1 255.2,412.6" fill="#4f6674" />
<polygon points="258.6,399.1 261.2,400.6 261.2,403.9 258.6,402.4" fill="#4f6674" />
<polygon points="258.6,403.1 261.2,404.7 261.2,408 258.6,406.5" fill="#4f6674" />
<polygon points="258.6,407.2 261.2,408.7 261.2,412 258.6,410.5" fill="#4f6674" />
<polygon points="258.6,411.3 261.2,412.8 261.2,416.1 258.6,414.6" fill="#4f6674" />
<polygon points="254.1,420.7 262.4,425.6 262.4,443.5 254.1,438.6" fill="#f3f3f3" />
<polygon points="252.9,437.9 263.6,444.2 263.6,446.4 252.9,440.1" fill="#f6f6f6" />
<polygon points="255.2,422.6 257.8,424.1 257.8,427.5 255.2,425.9" fill="#4f6674" />
<polygon points="255.2,426.7 257.8,428.2 257.8,431.5 255.2,430" fill="#4f6674" />
<polygon points="255.2,430.7 257.8,432.3 257.8,435.6 255.2,434" fill="#4f6674" />
<polygon points="255.2,434.8 257.8,436.3 257.8,439.6 255.2,438.1" fill="#4f6674" />
<polygon points="258.6,424.6 261.2,426.1 261.2,429.4 258.6,427.9" fill="#4f6674" />
<polygon points="258.6,428.6 261.2,430.2 261.2,433.5 258.6,432" fill="#4f6674" />
<polygon points="258.6,432.7 261.2,434.2 261.2,437.5 258.6,436" fill="#4f6674" />
<polygon points="258.6,436.8 261.2,438.3 261.2,441.6 258.6,440.1" fill="#4f6674" />
<polygon points="254.1,446.2 262.4,451.1 262.4,469 254.1,464.1" fill="#f3f3f3" />
<polygon points="252.9,463.4 263.6,469.7 263.6,471.9 252.9,465.6" fill="#f6f6f6" />
<polygon points="255.2,448.1 257.8,449.6 257.8,453 255.2,451.4" fill="#4f6674" />
<polygon points="255.2,452.2 257.8,453.7 257.8,457 255.2,455.5" fill="#4f6674" />
<polygon points="255.2,456.2 257.8,457.8 257.8,461.1 255.2,459.5" fill="#4f6674" />
<polygon points="255.2,460.3 257.8,461.8 257.8,465.1 255.2,463.6" fill="#4f6674" />
<polygon points="258.6,450.1 261.2,451.6 261.2,454.9 258.6,453.4" fill="#4f6674" />
<polygon points="258.6,454.1 261.2,455.7 261.2,459 258.6,457.5" fill="#4f6674" />
<polygon points="258.6,458.2 261.2,459.7 261.2,463 258.6,461.5" fill="#4f6674" />
<polygon points="258.6,462.3 261.2,463.8 261.2,467.1 258.6,465.6" fill="#4f6674" />
<polygon points="254.1,471.7 262.4,476.6 262.4,494.5 254.1,489.6" fill="#f3f3f3" />
<polygon points="252.9,488.9 263.6,495.2 263.6,497.4 252.9,491.1" fill="#f6f6f6" />
<polygon points="255.2,473.6 257.8,475.1 257.8,478.5 255.2,476.9" fill="#4f6674" />
<polygon points="255.2,477.7 257.8,479.2 257.8,482.5 255.2,481" fill="#4f6674" />
<polygon points="255.2,481.7 257.8,483.3 257.8,486.6 255.2,485" fill="#4f6674" />
<polygon points="255.2,485.8 257.8,487.3 257.8,490.6 255.2,489.1" fill="#4f6674" />
<polygon points="258.6,475.6 261.2,477.1 261.2,480.4 258.6,478.9" fill="#4f6674" />
<polygon points="258.6,479.6 261.2,481.2 261.2,484.5 258.6,483" fill="#4f6674" />
<polygon points="258.6,483.7 261.2,485.2 261.2,488.5 258.6,487" fill="#4f6674" />
<polygon points="258.6,487.8 261.2,489.3 261.2,492.6 258.6,491.1" fill="#4f6674" />
<polygon points="254.1,497.2 262.4,502.1 262.4,520 254.1,515.1" fill="#f3f3f3" />
<polygon points="252.9,514.4 263.6,520.7 263.6,522.9 252.9,516.6" fill="#f6f6f6" />
<polygon points="255.2,499.1 257.8,500.6 257.8,504 255.2,502.4" fill="#4f6674" />
<polygon points="255.2,503.2 257.8,504.7 257.8,508 255.2,506.5" fill="#4f6674" />
<polygon points="255.2,507.2 257.8,508.8 257.8,512.1 255.2,510.5" fill="#4f6674" />
<polygon points="255.2,511.3 257.8,512.8 257.8,516.1 255.2,514.6" fill="#4f6674" />
<polygon points="258.6,501.1 261.2,502.6 261.2,505.9 258.6,504.4" fill="#4f6674" />
<polygon points="258.6,505.1 261.2,506.7 261.2,510 258.6,508.5" fill="#4f6674" />
<polygon points="258.6,509.2 261.2,510.7 261.2,514 258.6,512.5" fill="#4f6674" />
<polygon points="258.6,513.3 261.2,514.8 261.2,518.1 258.6,516.6" fill="#4f6674" />
<polygon points="254.1,522.7 262.4,527.6 262.4,545.5 254.1,540.6" fill="#f3f3f3" />
<polygon points="252.9,539.9 263.6,546.2 263.6,548.4 252.9,542.1" fill="#f6f6f6" />
<polygon points="255.2,524.6 257.8,526.1 257.8,529.5 255.2,527.9" fill="#4f6674" />
<polygon points="255.2,528.7 257.8,530.2 257.8,533.5 255.2,532" fill="#4f6674" />
<polygon points="255.2,532.7 257.8,534.3 257.8,537.6 255.2,536" fill="#4f6674" />
<polygon points="255.2,536.8 257.8,538.3 257.8,541.6 255.2,540.1" fill="#4f6674" />
<polygon points="258.6,526.6 261.2,528.1 261.2,531.4 258.6,529.9" fill="#4f6674" />
<polygon points="258.6,530.6 261.2,532.2 261.2,535.5 258.6,534" fill="#4f6674" />
<polygon points="258.6,534.7 261.2,536.2 261.2,539.5 258.6,538" fill="#4f6674" />
<polygon points="258.6,538.8 261.2,540.3 261.2,543.6 258.6,542.1" fill="#4f6674" />
<polygon points="254.1,560.6 262.4,565.5 262.4,572.7 254.1,567.8" fill="#e9edf3" />
<polygon points="252.9,567.1 263.6,573.4 263.6,575.6 252.9,569.3" fill="#dfe5ee" />
<polygon points="255.2,562.5 257.8,564 257.8,566.1 255.2,564.5" fill="#4f6674" />
<polygon points="255.2,565.3 257.8,566.8 257.8,568.8 255.2,567.3" fill="#4f6674" />
<polygon points="258.6,564.5 261.2,566 261.2,568 258.6,566.5" fill="#4f6674" />
<polygon points="258.6,567.3 261.2,568.8 261.2,570.8 258.6,569.3" fill="#4f6674" />
<polygon points="269.1,389.1 277.4,394 277.4,401.7 269.1,396.8" fill="#f3f3f3" />
<polygon points="267.9,396.1 278.6,402.4 278.6,404.6 267.9,398.3" fill="#f6f6f6" />
<polygon points="270.2,391 272.9,392.5 272.9,394.8 270.2,393.3" fill="#4f6674" />
<polygon points="270.2,394 272.9,395.5 272.9,397.8 270.2,396.3" fill="#4f6674" />
<polygon points="273.6,393 276.2,394.5 276.2,396.8 273.6,395.2" fill="#4f6674" />
<polygon points="273.6,396 276.2,397.5 276.2,399.8 273.6,398.3" fill="#4f6674" />
<polygon points="269.1,404 277.4,408.9 277.4,426.8 269.1,421.9" fill="#f3f3f3" />
<polygon points="267.9,421.2 278.6,427.5 278.6,429.7 267.9,423.4" fill="#f6f6f6" />
<polygon points="270.2,405.9 272.9,407.4 272.9,410.7 270.2,409.2" fill="#4f6674" />
<polygon points="270.2,410 272.9,411.5 272.9,414.8 270.2,413.3" fill="#4f6674" />
<polygon points="270.2,414 272.9,415.5 272.9,418.9 270.2,417.3" fill="#4f6674" />
<polygon points="270.2,418.1 272.9,419.6 272.9,422.9 270.2,421.4" fill="#4f6674" />
<polygon points="273.6,407.9 276.2,409.4 276.2,412.7 273.6,411.2" fill="#4f6674" />
<polygon points="273.6,411.9 276.2,413.5 276.2,416.8 273.6,415.2" fill="#4f6674" />
<polygon points="273.6,416 276.2,417.5 276.2,420.8 273.6,419.3" fill="#4f6674" />
<polygon points="273.6,420 276.2,421.6 276.2,424.9 273.6,423.4" fill="#4f6674" />
<polygon points="269.1,429.5 277.4,434.4 277.4,452.3 269.1,447.4" fill="#f3f3f3" />
<polygon points="267.9,446.7 278.6,453 278.6,455.2 267.9,448.9" fill="#f6f6f6" />
<polygon points="270.2,431.4 272.9,432.9 272.9,436.2 270.2,434.7" fill="#4f6674" />
<polygon points="270.2,435.5 272.9,437 272.9,440.3 270.2,438.8" fill="#4f6674" />
<polygon points="270.2,439.5 272.9,441 272.9,444.4 270.2,442.8" fill="#4f6674" />
<polygon points="270.2,443.6 272.9,445.1 272.9,448.4 270.2,446.9" fill="#4f6674" />
<polygon points="273.6,433.4 276.2,434.9 276.2,438.2 273.6,436.7" fill="#4f6674" />
<polygon points="273.6,437.4 276.2,439 276.2,442.3 273.6,440.7" fill="#4f6674" />
<polygon points="273.6,441.5 276.2,443 276.2,446.3 273.6,444.8" fill="#4f6674" />
<polygon points="273.6,445.5 276.2,447.1 276.2,450.4 273.6,448.9" fill="#4f6674" />
<polygon points="269.1,455 277.4,459.9 277.4,477.8 269.1,472.9" fill="#f3f3f3" />
<polygon points="267.9,472.2 278.6,478.5 278.6,480.7 267.9,474.4" fill="#f6f6f6" />
<polygon points="270.2,456.9 272.9,458.4 272.9,461.7 270.2,460.2" fill="#4f6674" />
<polygon points="270.2,461 272.9,462.5 272.9,465.8 270.2,464.3" fill="#4f6674" />
<polygon points="270.2,465 272.9,466.5 272.9,469.9 270.2,468.3" fill="#4f6674" />
<polygon points="270.2,469.1 272.9,470.6 272.9,473.9 270.2,472.4" fill="#4f6674" />
<polygon points="273.6,458.9 276.2,460.4 276.2,463.7 273.6,462.2" fill="#4f6674" />
<polygon points="273.6,462.9 276.2,464.5 276.2,467.8 273.6,466.2" fill="#4f6674" />
<polygon points="273.6,467 276.2,468.5 276.2,471.8 273.6,470.3" fill="#4f6674" />
<polygon points="273.6,471 276.2,472.6 276.2,475.9 273.6,474.4" fill="#4f6674" />
<polygon points="269.1,480.5 277.4,485.4 277.4,503.3 269.1,498.4" fill="#f3f3f3" />
<polygon points="267.9,497.7 278.6,504 278.6,506.2 267.9,499.9" fill="#f6f6f6" />
<polygon points="270.2,482.4 272.9,483.9 272.9,487.2 270.2,485.7" fill="#4f6674" />
<polygon points="270.2,486.5 272.9,488 272.9,491.3 270.2,489.8" fill="#4f6674" />
<polygon points="270.2,490.5 272.9,492 272.9,495.4 270.2,493.8" fill="#4f6674" />
<polygon points="270.2,494.6 272.9,496.1 272.9,499.4 270.2,497.9" fill="#4f6674" />
<polygon points="273.6,484.4 276.2,485.9 276.2,489.2 273.6,487.7" fill="#4f6674" />
<polygon points="273.6,488.4 276.2,490 276.2,493.3 273.6,491.7" fill="#4f6674" />
<polygon points="273.6,492.5 276.2,494 276.2,497.3 273.6,495.8" fill="#4f6674" />
<polygon points="273.6,496.5 276.2,498.1 276.2,501.4 273.6,499.9" fill="#4f6674" />
<polygon points="269.1,506 277.4,510.9 277.4,528.8 269.1,523.9" fill="#f3f3f3" />
<polygon points="267.9,523.2 278.6,529.5 278.6,531.7 267.9,525.4" fill="#f6f6f6" />
<polygon points="270.2,507.9 272.9,509.4 272.9,512.7 270.2,511.2" fill="#4f6674" />
<polygon points="270.2,512 272.9,513.5 272.9,516.8 270.2,515.3" fill="#4f6674" />
<polygon points="270.2,516 272.9,517.5 272.9,520.9 270.2,519.3" fill="#4f6674" />
<polygon points="270.2,520.1 272.9,521.6 272.9,524.9 270.2,523.4" fill="#4f6674" />
<polygon points="273.6,509.9 276.2,511.4 276.2,514.7 273.6,513.2" fill="#4f6674" />
<polygon points="273.6,513.9 276.2,515.5 276.2,518.8 273.6,517.2" fill="#4f6674" />
<polygon points="273.6,518 276.2,519.5 276.2,522.8 273.6,521.3" fill="#4f6674" />
<polygon points="273.6,522 276.2,523.6 276.2,526.9 273.6,525.4" fill="#4f6674" />
<polygon points="269.1,531.5 277.4,536.4 277.4,554.3 269.1,549.4" fill="#f3f3f3" />
<polygon points="267.9,548.7 278.6,555 278.6,557.2 267.9,550.9" fill="#f6f6f6" />
<polygon points="270.2,533.4 272.9,534.9 272.9,538.2 270.2,536.7" fill="#4f6674" />
<polygon points="270.2,537.5 272.9,539 272.9,542.3 270.2,540.8" fill="#4f6674" />
<polygon points="270.2,541.5 272.9,543 272.9,546.4 270.2,544.8" fill="#4f6674" />
<polygon points="270.2,545.6 272.9,547.1 272.9,550.4 270.2,548.9" fill="#4f6674" />
<polygon points="273.6,535.4 276.2,536.9 276.2,540.2 273.6,538.7" fill="#4f6674" />
<polygon points="273.6,539.4 276.2,541 276.2,544.3 273.6,542.7" fill="#4f6674" />
<polygon points="273.6,543.5 276.2,545 276.2,548.3 273.6,546.8" fill="#4f6674" />
<polygon points="273.6,547.5 276.2,549.1 276.2,552.4 273.6,550.9" fill="#4f6674" />
<polygon points="269.1,569.4 277.4,574.3 277.4,581.5 269.1,576.6" fill="#e9edf3" />
<polygon points="267.9,575.9 278.6,582.2 278.6,584.4 267.9,578.1" fill="#dfe5ee" />
<polygon points="270.2,571.3 272.9,572.8 272.9,574.8 270.2,573.3" fill="#4f6674" />
<polygon points="270.2,574.1 272.9,575.6 272.9,577.6 270.2,576.1" fill="#4f6674" />
<polygon points="273.6,573.3 276.2,574.8 276.2,576.8 273.6,575.3" fill="#4f6674" />
<polygon points="273.6,576 276.2,577.6 276.2,579.6 273.6,578.1" fill="#4f6674" />
<polygon points="284.1,397.9 292.4,402.7 292.4,410.4 284.1,405.6" fill="#f3f3f3" />
<polygon points="282.9,404.9 293.6,411.1 293.6,413.3 282.9,407.1" fill="#f6f6f6" />
<polygon points="285.3,399.8 287.9,401.3 287.9,403.6 285.3,402" fill="#4f6674" />
<polygon points="285.3,402.8 287.9,404.3 287.9,406.6 285.3,405.1" fill="#4f6674" />
<polygon points="288.7,401.7 291.3,403.3 291.3,405.5 288.7,404" fill="#4f6674" />
<polygon points="288.7,404.8 291.3,406.3 291.3,408.6 288.7,407" fill="#4f6674" />
<polygon points="284.1,412.8 292.4,417.6 292.4,435.5 284.1,430.7" fill="#f3f3f3" />
<polygon points="282.9,430 293.6,436.2 293.6,438.4 282.9,432.2" fill="#f6f6f6" />
<polygon points="285.3,414.7 287.9,416.2 287.9,419.5 285.3,418" fill="#4f6674" />
<polygon points="285.3,418.7 287.9,420.3 287.9,423.6 285.3,422" fill="#4f6674" />
<polygon points="285.3,422.8 287.9,424.3 287.9,427.6 285.3,426.1" fill="#4f6674" />
<polygon points="285.3,426.9 287.9,428.4 287.9,431.7 285.3,430.2" fill="#4f6674" />
<polygon points="288.7,416.6 291.3,418.2 291.3,421.5 288.7,420" fill="#4f6674" />
<polygon points="288.7,420.7 291.3,422.2 291.3,425.5 288.7,424" fill="#4f6674" />
<polygon points="288.7,424.8 291.3,426.3 291.3,429.6 288.7,428.1" fill="#4f6674" />
<polygon points="288.7,428.8 291.3,430.4 291.3,433.7 288.7,432.1" fill="#4f6674" />
<polygon points="284.1,438.3 292.4,443.1 292.4,461 284.1,456.2" fill="#f3f3f3" />
<polygon points="282.9,455.5 293.6,461.7 293.6,463.9 282.9,457.7" fill="#f6f6f6" />
<polygon points="285.3,440.2 287.9,441.7 287.9,445 285.3,443.5" fill="#4f6674" />
<polygon points="285.3,444.2 287.9,445.8 287.9,449.1 285.3,447.5" fill="#4f6674" />
<polygon points="285.3,448.3 287.9,449.8 287.9,453.1 285.3,451.6" fill="#4f6674" />
<polygon points="285.3,452.4 287.9,453.9 287.9,457.2 285.3,455.7" fill="#4f6674" />
<polygon points="288.7,442.1 291.3,443.7 291.3,447 288.7,445.5" fill="#4f6674" />
<polygon points="288.7,446.2 291.3,447.7 291.3,451 288.7,449.5" fill="#4f6674" />
<polygon points="288.7,450.3 291.3,451.8 291.3,455.1 288.7,453.6" fill="#4f6674" />
<polygon points="288.7,454.3 291.3,455.9 291.3,459.2 288.7,457.6" fill="#4f6674" />
<polygon points="284.1,463.8 292.4,468.6 292.4,486.5 284.1,481.7" fill="#f3f3f3" />
<polygon points="282.9,481 293.6,487.2 293.6,489.4 282.9,483.2" fill="#f6f6f6" />
<polygon points="285.3,465.7 287.9,467.2 287.9,470.5 285.3,469" fill="#4f6674" />
<polygon points="285.3,469.7 287.9,471.3 287.9,474.6 285.3,473" fill="#4f6674" />
<polygon points="285.3,473.8 287.9,475.3 287.9,478.6 285.3,477.1" fill="#4f6674" />
<polygon points="285.3,477.9 287.9,479.4 287.9,482.7 285.3,481.2" fill="#4f6674" />
<polygon points="288.7,467.6 291.3,469.2 291.3,472.5 288.7,471" fill="#4f6674" />
<polygon points="288.7,471.7 291.3,473.2 291.3,476.5 288.7,475" fill="#4f6674" />
<polygon points="288.7,475.8 291.3,477.3 291.3,480.6 288.7,479.1" fill="#4f6674" />
<polygon points="288.7,479.8 291.3,481.4 291.3,484.7 288.7,483.1" fill="#4f6674" />
<polygon points="284.1,489.3 292.4,494.1 292.4,512 284.1,507.2" fill="#f3f3f3" />
<polygon points="282.9,506.5 293.6,512.7 293.6,514.9 282.9,508.7" fill="#f6f6f6" />
<polygon points="285.3,491.2 287.9,492.7 287.9,496 285.3,494.5" fill="#4f6674" />
<polygon points="285.3,495.2 287.9,496.8 287.9,500.1 285.3,498.5" fill="#4f6674" />
<polygon points="285.3,499.3 287.9,500.8 287.9,504.1 285.3,502.6" fill="#4f6674" />
<polygon points="285.3,503.4 287.9,504.9 287.9,508.2 285.3,506.7" fill="#4f6674" />
<polygon points="288.7,493.1 291.3,494.7 291.3,498 288.7,496.5" fill="#4f6674" />
<polygon points="288.7,497.2 291.3,498.7 291.3,502 288.7,500.5" fill="#4f6674" />
<polygon points="288.7,501.3 291.3,502.8 291.3,506.1 288.7,504.6" fill="#4f6674" />
<polygon points="288.7,505.3 291.3,506.9 291.3,510.2 288.7,508.6" fill="#4f6674" />
<polygon points="284.1,514.8 292.4,519.6 292.4,537.5 284.1,532.7" fill="#f3f3f3" />
<polygon points="282.9,532 293.6,538.2 293.6,540.4 282.9,534.2" fill="#f6f6f6" />
<polygon points="285.3,516.7 287.9,518.2 287.9,521.5 285.3,520" fill="#4f6674" />
<polygon points="285.3,520.7 287.9,522.3 287.9,525.6 285.3,524" fill="#4f6674" />
<polygon points="285.3,524.8 287.9,526.3 287.9,529.6 285.3,528.1" fill="#4f6674" />
<polygon points="285.3,528.9 287.9,530.4 287.9,533.7 285.3,532.2" fill="#4f6674" />
<polygon points="288.7,518.6 291.3,520.2 291.3,523.5 288.7,522" fill="#4f6674" />
<polygon points="288.7,522.7 291.3,524.2 291.3,527.5 288.7,526" fill="#4f6674" />
<polygon points="288.7,526.8 291.3,528.3 291.3,531.6 288.7,530.1" fill="#4f6674" />
<polygon points="288.7,530.8 291.3,532.4 291.3,535.7 288.7,534.1" fill="#4f6674" />
<polygon points="284.1,540.3 292.4,545.1 292.4,563 284.1,558.2" fill="#f3f3f3" />
<polygon points="282.9,557.5 293.6,563.7 293.6,565.9 282.9,559.7" fill="#f6f6f6" />
<polygon points="285.3,542.2 287.9,543.7 287.9,547 285.3,545.5" fill="#4f6674" />
<polygon points="285.3,546.2 287.9,547.8 287.9,551.1 285.3,549.5" fill="#4f6674" />
<polygon points="285.3,550.3 287.9,551.8 287.9,555.1 285.3,553.6" fill="#4f6674" />
<polygon points="285.3,554.4 287.9,555.9 287.9,559.2 285.3,557.7" fill="#4f6674" />
<polygon points="288.7,544.1 291.3,545.7 291.3,549 288.7,547.5" fill="#4f6674" />
<polygon points="288.7,548.2 291.3,549.7 291.3,553 288.7,551.5" fill="#4f6674" />
<polygon points="288.7,552.3 291.3,553.8 291.3,557.1 288.7,555.6" fill="#4f6674" />
<polygon points="288.7,556.3 291.3,557.9 291.3,561.2 288.7,559.6" fill="#4f6674" />
<polygon points="284.1,578.2 292.4,583 292.4,590.2 284.1,585.4" fill="#e9edf3" />
<polygon points="282.9,584.7 293.6,590.9 293.6,593.1 282.9,586.9" fill="#dfe5ee" />
<polygon points="285.3,580.1 287.9,581.6 287.9,583.6 285.3,582.1" fill="#4f6674" />
<polygon points="285.3,582.8 287.9,584.4 287.9,586.4 285.3,584.9" fill="#4f6674" />
<polygon points="288.7,582 291.3,583.6 291.3,585.6 288.7,584.1" fill="#4f6674" />
<polygon points="288.7,584.8 291.3,586.3 291.3,588.4 288.7,586.8" fill="#4f6674" />
<polygon points="299.2,406.7 307.5,411.5 307.5,419.2 299.2,414.4" fill="#f3f3f3" />
<polygon points="298,413.7 308.7,419.9 308.7,422.1 298,415.9" fill="#f6f6f6" />
<polygon points="300.4,408.6 303,410.1 303,412.4 300.4,410.8" fill="#4f6674" />
<polygon points="300.4,411.6 303,413.1 303,415.4 300.4,413.9" fill="#4f6674" />
<polygon points="303.7,410.5 306.4,412 306.4,414.3 303.7,412.8" fill="#4f6674" />
<polygon points="303.7,413.5 306.4,415.1 306.4,417.3 303.7,415.8" fill="#4f6674" />
<polygon points="299.2,421.6 307.5,426.4 307.5,444.3 299.2,439.5" fill="#f3f3f3" />
<polygon points="298,438.8 308.7,445 308.7,447.2 298,441" fill="#f6f6f6" />
<polygon points="300.4,423.5 303,425 303,428.3 300.4,426.8" fill="#4f6674" />
<polygon points="300.4,427.5 303,429 303,432.4 300.4,430.8" fill="#4f6674" />
<polygon points="300.4,431.6 303,433.1 303,436.4 300.4,434.9" fill="#4f6674" />
<polygon points="300.4,435.6 303,437.2 303,440.5 300.4,439" fill="#4f6674" />
<polygon points="303.7,425.4 306.4,426.9 306.4,430.3 303.7,428.7" fill="#4f6674" />
<polygon points="303.7,429.5 306.4,431 306.4,434.3 303.7,432.8" fill="#4f6674" />
<polygon points="303.7,433.5 306.4,435.1 306.4,438.4 303.7,436.9" fill="#4f6674" />
<polygon points="303.7,437.6 306.4,439.1 306.4,442.4 303.7,440.9" fill="#4f6674" />
<polygon points="299.2,447.1 307.5,451.9 307.5,469.8 299.2,465" fill="#f3f3f3" />
<polygon points="298,464.3 308.7,470.5 308.7,472.7 298,466.5" fill="#f6f6f6" />
<polygon points="300.4,449 303,450.5 303,453.8 300.4,452.3" fill="#4f6674" />
<polygon points="300.4,453 303,454.5 303,457.9 300.4,456.3" fill="#4f6674" />
<polygon points="300.4,457.1 303,458.6 303,461.9 300.4,460.4" fill="#4f6674" />
<polygon points="300.4,461.1 303,462.7 303,466 300.4,464.5" fill="#4f6674" />
<polygon points="303.7,450.9 306.4,452.4 306.4,455.8 303.7,454.2" fill="#4f6674" />
<polygon points="303.7,455 306.4,456.5 306.4,459.8 303.7,458.3" fill="#4f6674" />
<polygon points="303.7,459 306.4,460.6 306.4,463.9 303.7,462.4" fill="#4f6674" />
<polygon points="303.7,463.1 306.4,464.6 306.4,467.9 303.7,466.4" fill="#4f6674" />
<polygon points="299.2,472.6 307.5,477.4 307.5,495.3 299.2,490.5" fill="#f3f3f3" />
<polygon points="298,489.8 308.7,496 308.7,498.2 298,492" fill="#f6f6f6" />
<polygon points="300.4,474.5 303,476 303,479.3 300.4,477.8" fill="#4f6674" />
<polygon points="300.4,478.5 303,480 303,483.4 300.4,481.8" fill="#4f6674" />
<polygon points="300.4,482.6 303,484.1 303,487.4 300.4,485.9" fill="#4f6674" />
<polygon points="300.4,486.6 303,488.2 303,491.5 300.4,490" fill="#4f6674" />
<polygon points="303.7,476.4 306.4,477.9 306.4,481.3 303.7,479.7" fill="#4f6674" />
<polygon points="303.7,480.5 306.4,482 306.4,485.3 303.7,483.8" fill="#4f6674" />
<polygon points="303.7,484.5 306.4,486.1 306.4,489.4 303.7,487.9" fill="#4f6674" />
<polygon points="303.7,488.6 306.4,490.1 306.4,493.4 303.7,491.9" fill="#4f6674" />
<polygon points="299.2,498.1 307.5,502.9 307.5,520.8 299.2,516" fill="#f3f3f3" />
<polygon points="298,515.3 308.7,521.5 308.7,523.7 298,517.5" fill="#f6f6f6" />
<polygon points="300.4,500 303,501.5 303,504.8 300.4,503.3" fill="#4f6674" />
<polygon points="300.4,504 303,505.5 303,508.9 300.4,507.3" fill="#4f6674" />
<polygon points="300.4,508.1 303,509.6 303,512.9 300.4,511.4" fill="#4f6674" />
<polygon points="300.4,512.1 303,513.7 303,517 300.4,515.5" fill="#4f6674" />
<polygon points="303.7,501.9 306.4,503.4 306.4,506.8 303.7,505.2" fill="#4f6674" />
<polygon points="303.7,506 306.4,507.5 306.4,510.8 303.7,509.3" fill="#4f6674" />
<polygon points="303.7,510 306.4,511.6 306.4,514.9 303.7,513.4" fill="#4f6674" />
<polygon points="303.7,514.1 306.4,515.6 306.4,518.9 303.7,517.4" fill="#4f6674" />
<polygon points="299.2,523.6 307.5,528.4 307.5,546.3 299.2,541.5" fill="#f3f3f3" />
<polygon points="298,540.8 308.7,547 308.7,549.2 298,543" fill="#f6f6f6" />
<polygon points="300.4,525.5 303,527 303,530.3 300.4,528.8" fill="#4f6674" />
<polygon points="300.4,529.5 303,531 303,534.4 300.4,532.8" fill="#4f6674" />
<polygon points="300.4,533.6 303,535.1 303,538.4 300.4,536.9" fill="#4f6674" />
<polygon points="300.4,537.6 303,539.2 303,542.5 300.4,541" fill="#4f6674" />
<polygon points="303.7,527.4 306.4,528.9 306.4,532.3 303.7,530.7" fill="#4f6674" />
<polygon points="303.7,531.5 306.4,533 306.4,536.3 303.7,534.8" fill="#4f6674" />
<polygon points="303.7,535.5 306.4,537.1 306.4,540.4 303.7,538.9" fill="#4f6674" />
<polygon points="303.7,539.6 306.4,541.1 306.4,544.4 303.7,542.9" fill="#4f6674" />
<polygon points="299.2,549.1 307.5,553.9 307.5,571.8 299.2,567" fill="#f3f3f3" />
<polygon points="298,566.3 308.7,572.5 308.7,574.7 298,568.5" fill="#f6f6f6" />
<polygon points="300.4,551 303,552.5 303,555.8 300.4,554.3" fill="#4f6674" />
<polygon points="300.4,555 303,556.5 303,559.9 300.4,558.3" fill="#4f6674" />
<polygon points="300.4,559.1 303,560.6 303,563.9 300.4,562.4" fill="#4f6674" />
<polygon points="300.4,563.1 303,564.7 303,568 300.4,566.5" fill="#4f6674" />
<polygon points="303.7,552.9 306.4,554.4 306.4,557.8 303.7,556.2" fill="#4f6674" />
<polygon points="303.7,557 306.4,558.5 306.4,561.8 303.7,560.3" fill="#4f6674" />
<polygon points="303.7,561 306.4,562.6 306.4,565.9 303.7,564.4" fill="#4f6674" />
<polygon points="303.7,565.1 306.4,566.6 306.4,569.9 303.7,568.4" fill="#4f6674" />
<polygon points="299.2,587 307.5,591.8 307.5,599 299.2,594.2" fill="#e9edf3" />
<polygon points="298,593.5 308.7,599.7 308.7,601.9 298,595.7" fill="#dfe5ee" />
<polygon points="300.4,588.9 303,590.4 303,592.4 300.4,590.9" fill="#4f6674" />
<polygon points="300.4,591.6 303,593.2 303,595.2 300.4,593.7" fill="#4f6674" />
<polygon points="303.7,590.8 306.4,592.3 306.4,594.4 303.7,592.8" fill="#4f6674" />
<polygon points="303.7,593.6 306.4,595.1 306.4,597.1 303.7,595.6" fill="#4f6674" />
<polygon points="318.9,410.6 327.2,405.8 327.2,413.8 318.9,418.6" fill="#fafafa" />
<polygon points="317.7,419.3 328.4,413.1 328.4,415.3 317.7,421.5" fill="#ffffff" />
<polygon points="320,411.1 322.7,409.6 322.7,412.1 320,413.6" fill="#7391a3" />
<polygon points="320,414.3 322.7,412.8 322.7,415.2 320,416.7" fill="#7391a3" />
<polygon points="323.4,409.2 326,407.7 326,410.1 323.4,411.6" fill="#7391a3" />
<polygon points="323.4,412.4 326,410.9 326,413.3 323.4,414.8" fill="#7391a3" />
<polygon points="318.9,425.1 327.2,420.3 327.2,438.2 318.9,443" fill="#fafafa" />
<polygon points="317.7,443.7 328.4,437.5 328.4,439.7 317.7,445.9" fill="#ffffff" />
<polygon points="320,425.6 322.7,424.1 322.7,427.4 320,429" fill="#7391a3" />
<polygon points="320,429.7 322.7,428.2 322.7,431.5 320,433" fill="#7391a3" />
<polygon points="320,433.8 322.7,432.3 322.7,435.6 320,437.1" fill="#7391a3" />
<polygon points="320,437.8 322.7,436.3 322.7,439.6 320,441.1" fill="#7391a3" />
<polygon points="323.4,423.7 326,422.2 326,425.5 323.4,427" fill="#7391a3" />
<polygon points="323.4,427.8 326,426.3 326,429.6 323.4,431.1" fill="#7391a3" />
<polygon points="323.4,431.8 326,430.3 326,433.6 323.4,435.1" fill="#7391a3" />
<polygon points="323.4,435.9 326,434.4 326,437.7 323.4,439.2" fill="#7391a3" />
<polygon points="318.9,450.6 327.2,445.8 327.2,463.7 318.9,468.5" fill="#fafafa" />
<polygon points="317.7,469.2 328.4,463 328.4,465.2 317.7,471.4" fill="#ffffff" />
<polygon points="320,451.1 322.7,449.6 322.7,452.9 320,454.5" fill="#7391a3" />
<polygon points="320,455.2 322.7,453.7 322.7,457 320,458.5" fill="#7391a3" />
<polygon points="320,459.3 322.7,457.8 322.7,461.1 320,462.6" fill="#7391a3" />
<polygon points="320,463.3 322.7,461.8 322.7,465.1 320,466.6" fill="#7391a3" />
<polygon points="323.4,449.2 326,447.7 326,451 323.4,452.5" fill="#7391a3" />
<polygon points="323.4,453.3 326,451.8 326,455.1 323.4,456.6" fill="#7391a3" />
<polygon points="323.4,457.3 326,455.8 326,459.1 323.4,460.6" fill="#7391a3" />
<polygon points="323.4,461.4 326,459.9 326,463.2 323.4,464.7" fill="#7391a3" />
<polygon points="318.9,476.1 327.2,471.3 327.2,489.2 318.9,494" fill="#fafafa" />
<polygon points="317.7,494.7 328.4,488.5 328.4,490.7 317.7,496.9" fill="#ffffff" />
<polygon points="320,476.6 322.7,475.1 322.7,478.4 320,480" fill="#7391a3" />
<polygon points="320,480.7 322.7,479.2 322.7,482.5 320,484" fill="#7391a3" />
<polygon points="320,484.8 322.7,483.3 322.7,486.6 320,488.1" fill="#7391a3" />
<polygon points="320,488.8 322.7,487.3 322.7,490.6 320,492.1" fill="#7391a3" />
<polygon points="323.4,474.7 326,473.2 326,476.5 323.4,478" fill="#7391a3" />
<polygon points="323.4,478.8 326,477.3 326,480.6 323.4,482.1" fill="#7391a3" />
<polygon points="323.4,482.8 326,481.3 326,484.6 323.4,486.1" fill="#7391a3" />
<polygon points="323.4,486.9 326,485.4 326,488.7 323.4,490.2" fill="#7391a3" />
<polygon points="318.9,501.6 327.2,496.8 327.2,514.7 318.9,519.5" fill="#fafafa" />
<polygon points="317.7,520.2 328.4,514 328.4,516.2 317.7,522.4" fill="#ffffff" />
<polygon points="320,502.1 322.7,500.6 322.7,503.9 320,505.5" fill="#7391a3" />
<polygon points="320,506.2 322.7,504.7 322.7,508 320,509.5" fill="#7391a3" />
<polygon points="320,510.3 322.7,508.8 322.7,512.1 320,513.6" fill="#7391a3" />
<polygon points="320,514.3 322.7,512.8 322.7,516.1 320,517.6" fill="#7391a3" />
<polygon points="323.4,500.2 326,498.7 326,502 323.4,503.5" fill="#7391a3" />
<polygon points="323.4,504.3 326,502.8 326,506.1 323.4,507.6" fill="#7391a3" />
<polygon points="323.4,508.3 326,506.8 326,510.1 323.4,511.6" fill="#7391a3" />
<polygon points="323.4,512.4 326,510.9 326,514.2 323.4,515.7" fill="#7391a3" />
<polygon points="318.9,527.1 327.2,522.3 327.2,540.2 318.9,545" fill="#fafafa" />
<polygon points="317.7,545.7 328.4,539.5 328.4,541.7 317.7,547.9" fill="#ffffff" />
<polygon points="320,527.6 322.7,526.1 322.7,529.4 320,531" fill="#7391a3" />
<polygon points="320,531.7 322.7,530.2 322.7,533.5 320,535" fill="#7391a3" />
<polygon points="320,535.8 322.7,534.3 322.7,537.6 320,539.1" fill="#7391a3" />
<polygon points="320,539.8 322.7,538.3 322.7,541.6 320,543.1" fill="#7391a3" />
<polygon points="323.4,525.7 326,524.2 326,527.5 323.4,529" fill="#7391a3" />
<polygon points="323.4,529.8 326,528.3 326,531.6 323.4,533.1" fill="#7391a3" />
<polygon points="323.4,533.8 326,532.3 326,535.6 323.4,537.1" fill="#7391a3" />
<polygon points="323.4,537.9 326,536.4 326,539.7 323.4,541.2" fill="#7391a3" />
<polygon points="333.9,402 342.2,397.2 342.2,405.2 333.9,410" fill="#fafafa" />
<polygon points="332.7,410.7 343.4,404.5 343.4,406.7 332.7,412.9" fill="#ffffff" />
<polygon points="335,402.5 337.7,401 337.7,403.5 335,405" fill="#7391a3" />
<polygon points="335,405.7 337.7,404.2 337.7,406.6 335,408.1" fill="#7391a3" />
<polygon points="338.4,400.6 341,399.1 341,401.5 338.4,403" fill="#7391a3" />
<polygon points="338.4,403.8 341,402.3 341,404.7 338.4,406.2" fill="#7391a3" />
<polygon points="333.9,416.5 342.2,411.7 342.2,429.6 333.9,434.4" fill="#fafafa" />
<polygon points="332.7,435.1 343.4,428.9 343.4,431.1 332.7,437.3" fill="#ffffff" />
<polygon points="335,417 337.7,415.5 337.7,418.8 335,420.4" fill="#7391a3" />
<polygon points="335,421.1 337.7,419.6 337.7,422.9 335,424.4" fill="#7391a3" />
<polygon points="335,425.2 337.7,423.7 337.7,427 335,428.5" fill="#7391a3" />
<polygon points="335,429.2 337.7,427.7 337.7,431 335,432.5" fill="#7391a3" />
<polygon points="338.4,415.1 341,413.6 341,416.9 338.4,418.4" fill="#7391a3" />
<polygon points="338.4,419.2 341,417.7 341,421 338.4,422.5" fill="#7391a3" />
<polygon points="338.4,423.2 341,421.7 341,425 338.4,426.5" fill="#7391a3" />
<polygon points="338.4,427.3 341,425.8 341,429.1 338.4,430.6" fill="#7391a3" />
<polygon points="333.9,442 342.2,437.2 342.2,455.1 333.9,459.9" fill="#fafafa" />
<polygon points="332.7,460.6 343.4,454.4 343.4,456.6 332.7,462.8" fill="#ffffff" />
<polygon points="335,442.5 337.7,441 337.7,444.3 335,445.9" fill="#7391a3" />
<polygon points="335,446.6 337.7,445.1 337.7,448.4 335,449.9" fill="#7391a3" />
<polygon points="335,450.7 337.7,449.2 337.7,452.5 335,454" fill="#7391a3" />
<polygon points="335,454.7 337.7,453.2 337.7,456.5 335,458" fill="#7391a3" />
<polygon points="338.4,440.6 341,439.1 341,442.4 338.4,443.9" fill="#7391a3" />
<polygon points="338.4,444.7 341,443.2 341,446.5 338.4,448" fill="#7391a3" />
<polygon points="338.4,448.7 341,447.2 341,450.5 338.4,452" fill="#7391a3" />
<polygon points="338.4,452.8 341,451.3 341,454.6 338.4,456.1" fill="#7391a3" />
<polygon points="333.9,467.5 342.2,462.7 342.2,480.6 333.9,485.4" fill="#fafafa" />
<polygon points="332.7,486.1 343.4,479.9 343.4,482.1 332.7,488.3" fill="#ffffff" />
<polygon points="335,468 337.7,466.5 337.7,469.8 335,471.4" fill="#7391a3" />
<polygon points="335,472.1 337.7,470.6 337.7,473.9 335,475.4" fill="#7391a3" />
<polygon points="335,476.2 337.7,474.7 337.7,478 335,479.5" fill="#7391a3" />
<polygon points="335,480.2 337.7,478.7 337.7,482 335,483.5" fill="#7391a3" />
<polygon points="338.4,466.1 341,464.6 341,467.9 338.4,469.4" fill="#7391a3" />
<polygon points="338.4,470.2 341,468.7 341,472 338.4,473.5" fill="#7391a3" />
<polygon points="338.4,474.2 341,472.7 341,476 338.4,477.5" fill="#7391a3" />
<polygon points="338.4,478.3 341,476.8 341,480.1 338.4,481.6" fill="#7391a3" />
<polygon points="333.9,493 342.2,488.2 342.2,506.1 333.9,510.9" fill="#fafafa" />
<polygon points="332.7,511.6 343.4,505.4 343.4,507.6 332.7,513.8" fill="#ffffff" />
<polygon points="335,493.5 337.7,492 337.7,495.3 335,496.9" fill="#7391a3" />
<polygon points="335,497.6 337.7,496.1 337.7,499.4 335,500.9" fill="#7391a3" />
<polygon points="335,501.7 337.7,500.2 337.7,503.5 335,505" fill="#7391a3" />
<polygon points="335,505.7 337.7,504.2 337.7,507.5 335,509" fill="#7391a3" />
<polygon points="338.4,491.6 341,490.1 341,493.4 338.4,494.9" fill="#7391a3" />
<polygon points="338.4,495.7 341,494.2 341,497.5 338.4,499" fill="#7391a3" />
<polygon points="338.4,499.7 341,498.2 341,501.5 338.4,503" fill="#7391a3" />
<polygon points="338.4,503.8 341,502.3 341,505.6 338.4,507.1" fill="#7391a3" />
<polygon points="333.9,518.5 342.2,513.7 342.2,531.6 333.9,536.4" fill="#fafafa" />
<polygon points="332.7,537.1 343.4,530.9 343.4,533.1 332.7,539.3" fill="#ffffff" />
<polygon points="335,519 337.7,517.5 337.7,520.8 335,522.4" fill="#7391a3" />
<polygon points="335,523.1 337.7,521.6 337.7,524.9 335,526.4" fill="#7391a3" />
<polygon points="335,527.2 337.7,525.7 337.7,529 335,530.5" fill="#7391a3" />
<polygon points="335,531.2 337.7,529.7 337.7,533 335,534.5" fill="#7391a3" />
<polygon points="338.4,517.1 341,515.6 341,518.9 338.4,520.4" fill="#7391a3" />
<polygon points="338.4,521.2 341,519.7 341,523 338.4,524.5" fill="#7391a3" />
<polygon points="338.4,525.2 341,523.7 341,527 338.4,528.5" fill="#7391a3" />
<polygon points="338.4,529.3 341,527.8 341,531.1 338.4,532.6" fill="#7391a3" />
<polygon points="348.9,393.4 357.2,388.6 357.2,396.6 348.9,401.4" fill="#fafafa" />
<polygon points="347.7,402.1 358.4,395.9 358.4,398.1 347.7,404.3" fill="#ffffff" />
<polygon points="350,393.9 352.7,392.4 352.7,394.9 350,396.4" fill="#7391a3" />
<polygon points="350,397.1 352.7,395.6 352.7,398 350,399.5" fill="#7391a3" />
<polygon points="353.4,392 356,390.5 356,392.9 353.4,394.4" fill="#7391a3" />
<polygon points="353.4,395.2 356,393.7 356,396.1 353.4,397.6" fill="#7391a3" />
<polygon points="348.9,407.9 357.2,403.1 357.2,421 348.9,425.8" fill="#fafafa" />
<polygon points="347.7,426.5 358.4,420.3 358.4,422.5 347.7,428.7" fill="#ffffff" />
<polygon points="350,408.4 352.7,406.9 352.7,410.2 350,411.8" fill="#7391a3" />
<polygon points="350,412.5 352.7,411 352.7,414.3 350,415.8" fill="#7391a3" />
<polygon points="350,416.6 352.7,415.1 352.7,418.4 350,419.9" fill="#7391a3" />
<polygon points="350,420.6 352.7,419.1 352.7,422.4 350,423.9" fill="#7391a3" />
<polygon points="353.4,406.5 356,405 356,408.3 353.4,409.8" fill="#7391a3" />
<polygon points="353.4,410.6 356,409.1 356,412.4 353.4,413.9" fill="#7391a3" />
<polygon points="353.4,414.6 356,413.1 356,416.4 353.4,417.9" fill="#7391a3" />
<polygon points="353.4,418.7 356,417.2 356,420.5 353.4,422" fill="#7391a3" />
<polygon points="348.9,433.4 357.2,428.6 357.2,446.5 348.9,451.3" fill="#fafafa" />
<polygon points="347.7,452 358.4,445.8 358.4,448 347.7,454.2" fill="#ffffff" />
<polygon points="350,433.9 352.7,432.4 352.7,435.7 350,437.3" fill="#7391a3" />
<polygon points="350,438 352.7,436.5 352.7,439.8 350,441.3" fill="#7391a3" />
<polygon points="350,442.1 352.7,440.6 352.7,443.9 350,445.4" fill="#7391a3" />
<polygon points="350,446.1 352.7,444.6 352.7,447.9 350,449.4" fill="#7391a3" />
<polygon points="353.4,432 356,430.5 356,433.8 353.4,435.3" fill="#7391a3" />
<polygon points="353.4,436.1 356,434.6 356,437.9 353.4,439.4" fill="#7391a3" />
<polygon points="353.4,440.1 356,438.6 356,441.9 353.4,443.4" fill="#7391a3" />
<polygon points="353.4,444.2 356,442.7 356,446 353.4,447.5" fill="#7391a3" />
<polygon points="348.9,458.9 357.2,454.1 357.2,472 348.9,476.8" fill="#fafafa" />
<polygon points="347.7,477.5 358.4,471.3 358.4,473.5 347.7,479.7" fill="#ffffff" />
<polygon points="350,459.4 352.7,457.9 352.7,461.2 350,462.8" fill="#7391a3" />
<polygon points="350,463.5 352.7,462 352.7,465.3 350,466.8" fill="#7391a3" />
<polygon points="350,467.6 352.7,466.1 352.7,469.4 350,470.9" fill="#7391a3" />
<polygon points="350,471.6 352.7,470.1 352.7,473.4 350,474.9" fill="#7391a3" />
<polygon points="353.4,457.5 356,456 356,459.3 353.4,460.8" fill="#7391a3" />
<polygon points="353.4,461.6 356,460.1 356,463.4 353.4,464.9" fill="#7391a3" />
<polygon points="353.4,465.6 356,464.1 356,467.4 353.4,468.9" fill="#7391a3" />
<polygon points="353.4,469.7 356,468.2 356,471.5 353.4,473" fill="#7391a3" />
<polygon points="348.9,484.4 357.2,479.6 357.2,497.5 348.9,502.3" fill="#fafafa" />
<polygon points="347.7,503 358.4,496.8 358.4,499 347.7,505.2" fill="#ffffff" />
<polygon points="350,484.9 352.7,483.4 352.7,486.7 350,488.3" fill="#7391a3" />
<polygon points="350,489 352.7,487.5 352.7,490.8 350,492.3" fill="#7391a3" />
<polygon points="350,493.1 352.7,491.6 352.7,494.9 350,496.4" fill="#7391a3" />
<polygon points="350,497.1 352.7,495.6 352.7,498.9 350,500.4" fill="#7391a3" />
<polygon points="353.4,483 356,481.5 356,484.8 353.4,486.3" fill="#7391a3" />
<polygon points="353.4,487.1 356,485.6 356,488.9 353.4,490.4" fill="#7391a3" />
<polygon points="353.4,491.1 356,489.6 356,492.9 353.4,494.4" fill="#7391a3" />
<polygon points="353.4,495.2 356,493.7 356,497 353.4,498.5" fill="#7391a3" />
<polygon points="348.9,509.9 357.2,505.1 357.2,523 348.9,527.8" fill="#fafafa" />
<polygon points="347.7,528.5 358.4,522.3 358.4,524.5 347.7,530.7" fill="#ffffff" />
<polygon points="350,510.4 352.7,508.9 352.7,512.2 350,513.8" fill="#7391a3" />
<polygon points="350,514.5 352.7,513 352.7,516.3 350,517.8" fill="#7391a3" />
<polygon points="350,518.6 352.7,517.1 352.7,520.4 350,521.9" fill="#7391a3" />
<polygon points="350,522.6 352.7,521.1 352.7,524.4 350,525.9" fill="#7391a3" />
<polygon points="353.4,508.5 356,507 356,510.3 353.4,511.8" fill="#7391a3" />
<polygon points="353.4,512.6 356,511.1 356,514.4 353.4,515.9" fill="#7391a3" />
<polygon points="353.4,516.6 356,515.1 356,518.4 353.4,519.9" fill="#7391a3" />
<polygon points="353.4,520.7 356,519.2 356,522.5 353.4,524" fill="#7391a3" />
<polygon points="363.9,384.8 372.2,380 372.2,388 363.9,392.8" fill="#fafafa" />
<polygon points="362.7,393.5 373.4,387.3 373.4,389.5 362.7,395.7" fill="#ffffff" />
<polygon points="365,385.3 367.7,383.8 367.7,386.3 365,387.8" fill="#7391a3" />
<polygon points="365,388.5 367.7,387 367.7,389.4 365,390.9" fill="#7391a3" />
<polygon points="368.4,383.4 371,381.9 371,384.3 368.4,385.8" fill="#7391a3" />
<polygon points="368.4,386.6 371,385.1 371,387.5 368.4,389" fill="#7391a3" />
<polygon points="363.9,399.3 372.2,394.5 372.2,412.4 363.9,417.2" fill="#fafafa" />
<polygon points="362.7,417.9 373.4,411.7 373.4,413.9 362.7,420.1" fill="#ffffff" />
<polygon points="365,399.8 367.7,398.3 367.7,401.6 365,403.2" fill="#7391a3" />
<polygon points="365,403.9 367.7,402.4 367.7,405.7 365,407.2" fill="#7391a3" />
<polygon points="365,408 367.7,406.5 367.7,409.8 365,411.3" fill="#7391a3" />
<polygon points="365,412 367.7,410.5 367.7,413.8 365,415.3" fill="#7391a3" />
<polygon points="368.4,397.9 371,396.4 371,399.7 368.4,401.2" fill="#7391a3" />
<polygon points="368.4,402 371,400.5 371,403.8 368.4,405.3" fill="#7391a3" />
<polygon points="368.4,406 371,404.5 371,407.8 368.4,409.3" fill="#7391a3" />
<polygon points="368.4,410.1 371,408.6 371,411.9 368.4,413.4" fill="#7391a3" />
<polygon points="363.9,424.8 372.2,420 372.2,437.9 363.9,442.7" fill="#fafafa" />
<polygon points="362.7,443.4 373.4,437.2 373.4,439.4 362.7,445.6" fill="#ffffff" />
<polygon points="365,425.3 367.7,423.8 367.7,427.1 365,428.7" fill="#7391a3" />
<polygon points="365,429.4 367.7,427.9 367.7,431.2 365,432.7" fill="#7391a3" />
<polygon points="365,433.5 367.7,432 367.7,435.3 365,436.8" fill="#7391a3" />
<polygon points="365,437.5 367.7,436 367.7,439.3 365,440.8" fill="#7391a3" />
<polygon points="368.4,423.4 371,421.9 371,425.2 368.4,426.7" fill="#7391a3" />
<polygon points="368.4,427.5 371,426 371,429.3 368.4,430.8" fill="#7391a3" />
<polygon points="368.4,431.5 371,430 371,433.3 368.4,434.8" fill="#7391a3" />
<polygon points="368.4,435.6 371,434.1 371,437.4 368.4,438.9" fill="#7391a3" />
<polygon points="363.9,450.3 372.2,445.5 372.2,463.4 363.9,468.2" fill="#fafafa" />
<polygon points="362.7,468.9 373.4,462.7 373.4,464.9 362.7,471.1" fill="#ffffff" />
<polygon points="365,450.8 367.7,449.3 367.7,452.6 365,454.2" fill="#7391a3" />
<polygon points="365,454.9 367.7,453.4 367.7,456.7 365,458.2" fill="#7391a3" />
<polygon points="365,459 367.7,457.5 367.7,460.8 365,462.3" fill="#7391a3" />
<polygon points="365,463 367.7,461.5 367.7,464.8 365,466.3" fill="#7391a3" />
<polygon points="368.4,448.9 371,447.4 371,450.7 368.4,452.2" fill="#7391a3" />
<polygon points="368.4,453 371,451.5 371,454.8 368.4,456.3" fill="#7391a3" />
<polygon points="368.4,457 371,455.5 371,458.8 368.4,460.3" fill="#7391a3" />
<polygon points="368.4,461.1 371,459.6 371,462.9 368.4,464.4" fill="#7391a3" />
<polygon points="363.9,475.8 372.2,471 372.2,488.9 363.9,493.7" fill="#fafafa" />
<polygon points="362.7,494.4 373.4,488.2 373.4,490.4 362.7,496.6" fill="#ffffff" />
<polygon points="365,476.3 367.7,474.8 367.7,478.1 365,479.7" fill="#7391a3" />
<polygon points="365,480.4 367.7,478.9 367.7,482.2 365,483.7" fill="#7391a3" />
<polygon points="365,484.5 367.7,483 367.7,486.3 365,487.8" fill="#7391a3" />
<polygon points="365,488.5 367.7,487 367.7,490.3 365,491.8" fill="#7391a3" />
<polygon points="368.4,474.4 371,472.9 371,476.2 368.4,477.7" fill="#7391a3" />
<polygon points="368.4,478.5 371,477 371,480.3 368.4,481.8" fill="#7391a3" />
<polygon points="368.4,482.5 371,481 371,484.3 368.4,485.8" fill="#7391a3" />
<polygon points="368.4,486.6 371,485.1 371,488.4 368.4,489.9" fill="#7391a3" />
<polygon points="363.9,501.3 372.2,496.5 372.2,514.4 363.9,519.2" fill="#fafafa" />
<polygon points="362.7,519.9 373.4,513.7 373.4,515.9 362.7,522.1" fill="#ffffff" />
<polygon points="365,501.8 367.7,500.3 367.7,503.6 365,505.2" fill="#7391a3" />
<polygon points="365,505.9 367.7,504.4 367.7,507.7 365,509.2" fill="#7391a3" />
<polygon points="365,510 367.7,508.5 367.7,511.8 365,513.3" fill="#7391a3" />
<polygon points="365,514 367.7,512.5 367.7,515.8 365,517.3" fill="#7391a3" />
<polygon points="368.4,499.9 371,498.4 371,501.7 368.4,503.2" fill="#7391a3" />
<polygon points="368.4,504 371,502.5 371,505.8 368.4,507.3" fill="#7391a3" />
<polygon points="368.4,508 371,506.5 371,509.8 368.4,511.3" fill="#7391a3" />
<polygon points="368.4,512.1 371,510.6 371,513.9 368.4,515.4" fill="#7391a3" />
<polygon points="378.9,376.2 387.2,371.4 387.2,379.4 378.9,384.2" fill="#fafafa" />
<polygon points="377.7,384.9 388.4,378.7 388.4,380.9 377.7,387.1" fill="#ffffff" />
<polygon points="380,376.7 382.7,375.2 382.7,377.7 380,379.2" fill="#7391a3" />
<polygon points="380,379.9 382.7,378.4 382.7,380.8 380,382.3" fill="#7391a3" />
<polygon points="383.4,374.8 386,373.3 386,375.7 383.4,377.2" fill="#7391a3" />
<polygon points="383.4,378 386,376.5 386,378.9 383.4,380.4" fill="#7391a3" />
<polygon points="378.9,390.7 387.2,385.9 387.2,403.8 378.9,408.6" fill="#fafafa" />
<polygon points="377.7,409.3 388.4,403.1 388.4,405.3 377.7,411.5" fill="#ffffff" />
<polygon points="380,391.2 382.7,389.7 382.7,393 380,394.6" fill="#7391a3" />
<polygon points="380,395.3 382.7,393.8 382.7,397.1 380,398.6" fill="#7391a3" />
<polygon points="380,399.4 382.7,397.9 382.7,401.2 380,402.7" fill="#7391a3" />
<polygon points="380,403.4 382.7,401.9 382.7,405.2 380,406.7" fill="#7391a3" />
<polygon points="383.4,389.3 386,387.8 386,391.1 383.4,392.6" fill="#7391a3" />
<polygon points="383.4,393.4 386,391.9 386,395.2 383.4,396.7" fill="#7391a3" />
<polygon points="383.4,397.4 386,395.9 386,399.2 383.4,400.7" fill="#7391a3" />
<polygon points="383.4,401.5 386,400 386,403.3 383.4,404.8" fill="#7391a3" />
<polygon points="378.9,416.2 387.2,411.4 387.2,429.3 378.9,434.1" fill="#fafafa" />
<polygon points="377.7,434.8 388.4,428.6 388.4,430.8 377.7,437" fill="#ffffff" />
<polygon points="380,416.7 382.7,415.2 382.7,418.5 380,420.1" fill="#7391a3" />
<polygon points="380,420.8 382.7,419.3 382.7,422.6 380,424.1" fill="#7391a3" />
<polygon points="380,424.9 382.7,423.4 382.7,426.7 380,428.2" fill="#7391a3" />
<polygon points="380,428.9 382.7,427.4 382.7,430.7 380,432.2" fill="#7391a3" />
<polygon points="383.4,414.8 386,413.3 386,416.6 383.4,418.1" fill="#7391a3" />
<polygon points="383.4,418.9 386,417.4 386,420.7 383.4,422.2" fill="#7391a3" />
<polygon points="383.4,422.9 386,421.4 386,424.7 383.4,426.2" fill="#7391a3" />
<polygon points="383.4,427 386,425.5 386,428.8 383.4,430.3" fill="#7391a3" />
<polygon points="378.9,441.7 387.2,436.9 387.2,454.8 378.9,459.6" fill="#fafafa" />
<polygon points="377.7,460.3 388.4,454.1 388.4,456.3 377.7,462.5" fill="#ffffff" />
<polygon points="380,442.2 382.7,440.7 382.7,444 380,445.6" fill="#7391a3" />
<polygon points="380,446.3 382.7,444.8 382.7,448.1 380,449.6" fill="#7391a3" />
<polygon points="380,450.4 382.7,448.9 382.7,452.2 380,453.7" fill="#7391a3" />
<polygon points="380,454.4 382.7,452.9 382.7,456.2 380,457.7" fill="#7391a3" />
<polygon points="383.4,440.3 386,438.8 386,442.1 383.4,443.6" fill="#7391a3" />
<polygon points="383.4,444.4 386,442.9 386,446.2 383.4,447.7" fill="#7391a3" />
<polygon points="383.4,448.4 386,446.9 386,450.2 383.4,451.7" fill="#7391a3" />
<polygon points="383.4,452.5 386,451 386,454.3 383.4,455.8" fill="#7391a3" />
<polygon points="378.9,467.2 387.2,462.4 387.2,480.3 378.9,485.1" fill="#fafafa" />
<polygon points="377.7,485.8 388.4,479.6 388.4,481.8 377.7,488" fill="#ffffff" />
<polygon points="380,467.7 382.7,466.2 382.7,469.5 380,471.1" fill="#7391a3" />
<polygon points="380,471.8 382.7,470.3 382.7,473.6 380,475.1" fill="#7391a3" />
<polygon points="380,475.9 382.7,474.4 382.7,477.7 380,479.2" fill="#7391a3" />
<polygon points="380,479.9 382.7,478.4 382.7,481.7 380,483.2" fill="#7391a3" />
<polygon points="383.4,465.8 386,464.3 386,467.6 383.4,469.1" fill="#7391a3" />
<polygon points="383.4,469.9 386,468.4 386,471.7 383.4,473.2" fill="#7391a3" />
<polygon points="383.4,473.9 386,472.4 386,475.7 383.4,477.2" fill="#7391a3" />
<polygon points="383.4,478 386,476.5 386,479.8 383.4,481.3" fill="#7391a3" />
<polygon points="378.9,492.7 387.2,487.9 387.2,505.8 378.9,510.6" fill="#fafafa" />
<polygon points="377.7,511.3 388.4,505.1 388.4,507.3 377.7,513.5" fill="#ffffff" />
<polygon points="380,493.2 382.7,491.7 382.7,495 380,496.6" fill="#7391a3" />
<polygon points="380,497.3 382.7,495.8 382.7,499.1 380,500.6" fill="#7391a3" />
<polygon points="380,501.4 382.7,499.9 382.7,503.2 380,504.7" fill="#7391a3" />
<polygon points="380,505.4 382.7,503.9 382.7,507.2 380,508.7" fill="#7391a3" />
<polygon points="383.4,491.3 386,489.8 386,493.1 383.4,494.6" fill="#7391a3" />
<polygon points="383.4,495.4 386,493.9 386,497.2 383.4,498.7" fill="#7391a3" />
<polygon points="383.4,499.4 386,497.9 386,501.2 383.4,502.7" fill="#7391a3" />
<polygon points="383.4,503.5 386,502 386,505.3 383.4,506.8" fill="#7391a3" />
<polygon points="393.9,367.6 402.2,362.8 402.2,370.8 393.9,375.6" fill="#fafafa" />
<polygon points="392.7,376.3 403.4,370.1 403.4,372.3 392.7,378.5" fill="#ffffff" />
<polygon points="395,368.1 397.7,366.6 397.7,369.1 395,370.6" fill="#7391a3" />
<polygon points="395,371.3 397.7,369.8 397.7,372.2 395,373.7" fill="#7391a3" />
<polygon points="398.4,366.2 401,364.7 401,367.1 398.4,368.6" fill="#7391a3" />
<polygon points="398.4,369.4 401,367.9 401,370.3 398.4,371.8" fill="#7391a3" />
<polygon points="393.9,382.1 402.2,377.3 402.2,395.2 393.9,400" fill="#fafafa" />
<polygon points="392.7,400.7 403.4,394.5 403.4,396.7 392.7,402.9" fill="#ffffff" />
<polygon points="395,382.6 397.7,381.1 397.7,384.4 395,386" fill="#7391a3" />
<polygon points="395,386.7 397.7,385.2 397.7,388.5 395,390" fill="#7391a3" />
<polygon points="395,390.8 397.7,389.3 397.7,392.6 395,394.1" fill="#7391a3" />
<polygon points="395,394.8 397.7,393.3 397.7,396.6 395,398.1" fill="#7391a3" />
<polygon points="398.4,380.7 401,379.2 401,382.5 398.4,384" fill="#7391a3" />
<polygon points="398.4,384.8 401,383.3 401,386.6 398.4,388.1" fill="#7391a3" />
<polygon points="398.4,388.8 401,387.3 401,390.6 398.4,392.1" fill="#7391a3" />
<polygon points="398.4,392.9 401,391.4 401,394.7 398.4,396.2" fill="#7391a3" />
<polygon points="393.9,407.6 402.2,402.8 402.2,420.7 393.9,425.5" fill="#fafafa" />
<polygon points="392.7,426.2 403.4,420 403.4,422.2 392.7,428.4" fill="#ffffff" />
<polygon points="395,408.1 397.7,406.6 397.7,409.9 395,411.5" fill="#7391a3" />
<polygon points="395,412.2 397.7,410.7 397.7,414 395,415.5" fill="#7391a3" />
<polygon points="395,416.3 397.7,414.8 397.7,418.1 395,419.6" fill="#7391a3" />
<polygon points="395,420.3 397.7,418.8 397.7,422.1 395,423.6" fill="#7391a3" />
<polygon points="398.4,406.2 401,404.7 401,408 398.4,409.5" fill="#7391a3" />
<polygon points="398.4,410.3 401,408.8 401,412.1 398.4,413.6" fill="#7391a3" />
<polygon points="398.4,414.3 401,412.8 401,416.1 398.4,417.6" fill="#7391a3" />
<polygon points="398.4,418.4 401,416.9 401,420.2 398.4,421.7" fill="#7391a3" />
<polygon points="393.9,433.1 402.2,428.3 402.2,446.2 393.9,451" fill="#fafafa" />
<polygon points="392.7,451.7 403.4,445.5 403.4,447.7 392.7,453.9" fill="#ffffff" />
<polygon points="395,433.6 397.7,432.1 397.7,435.4 395,437" fill="#7391a3" />
<polygon points="395,437.7 397.7,436.2 397.7,439.5 395,441" fill="#7391a3" />
<polygon points="395,441.8 397.7,440.3 397.7,443.6 395,445.1" fill="#7391a3" />
<polygon points="395,445.8 397.7,444.3 397.7,447.6 395,449.1" fill="#7391a3" />
<polygon points="398.4,431.7 401,430.2 401,433.5 398.4,435" fill="#7391a3" />
<polygon points="398.4,435.8 401,434.3 401,437.6 398.4,439.1" fill="#7391a3" />
<polygon points="398.4,439.8 401,438.3 401,441.6 398.4,443.1" fill="#7391a3" />
<polygon points="398.4,443.9 401,442.4 401,445.7 398.4,447.2" fill="#7391a3" />
<polygon points="393.9,458.6 402.2,453.8 402.2,471.7 393.9,476.5" fill="#fafafa" />
<polygon points="392.7,477.2 403.4,471 403.4,473.2 392.7,479.4" fill="#ffffff" />
<polygon points="395,459.1 397.7,457.6 397.7,460.9 395,462.5" fill="#7391a3" />
<polygon points="395,463.2 397.7,461.7 397.7,465 395,466.5" fill="#7391a3" />
<polygon points="395,467.3 397.7,465.8 397.7,469.1 395,470.6" fill="#7391a3" />
<polygon points="395,471.3 397.7,469.8 397.7,473.1 395,474.6" fill="#7391a3" />
<polygon points="398.4,457.2 401,455.7 401,459 398.4,460.5" fill="#7391a3" />
<polygon points="398.4,461.3 401,459.8 401,463.1 398.4,464.6" fill="#7391a3" />
<polygon points="398.4,465.3 401,463.8 401,467.1 398.4,468.6" fill="#7391a3" />
<polygon points="398.4,469.4 401,467.9 401,471.2 398.4,472.7" fill="#7391a3" />
<polygon points="393.9,484.1 402.2,479.3 402.2,497.2 393.9,502" fill="#fafafa" />
<polygon points="392.7,502.7 403.4,496.5 403.4,498.7 392.7,504.9" fill="#ffffff" />
<polygon points="395,484.6 397.7,483.1 397.7,486.4 395,488" fill="#7391a3" />
<polygon points="395,488.7 397.7,487.2 397.7,490.5 395,492" fill="#7391a3" />
<polygon points="395,492.8 397.7,491.3 397.7,494.6 395,496.1" fill="#7391a3" />
<polygon points="395,496.8 397.7,495.3 397.7,498.6 395,500.1" fill="#7391a3" />
<polygon points="398.4,482.7 401,481.2 401,484.5 398.4,486" fill="#7391a3" />
<polygon points="398.4,486.8 401,485.3 401,488.6 398.4,490.1" fill="#7391a3" />
<polygon points="398.4,490.8 401,489.3 401,492.6 398.4,494.1" fill="#7391a3" />
<polygon points="398.4,494.9 401,493.4 401,496.7 398.4,498.2" fill="#7391a3" />
<polygon points="333.8,553.8 391,521 391,525.2 333.8,558" fill="#e6e7e8" />
<polygon points="333.8,553.8 391,521 391,522.5 333.8,555.3" fill="#f8f8f8" />
<polygon points="335.2,557.3 338.8,555.2 338.8,588.7 335.2,590.8" fill="#dcdddf" />
<polygon points="360.4,542.8 364,540.7 364,574.2 360.4,576.3" fill="#dcdddf" />
<polygon points="386.3,527.9 390,525.8 390,559.3 386.3,561.4" fill="#dcdddf" />
<polygon points="338.8,558.6 360.4,546.2 360.4,577 338.8,589.4" fill="#5d4824" />
<polygon points="340.2,559.4 348.4,554.7 348.4,570.2 340.2,574.9" fill="#d9dbdd" />
<polygon points="340.4,577.2 348.2,572.7 348.2,581.7 340.4,586.2" fill="none" stroke="#8a7136" stroke-width="0.5"/>
<polygon points="351,553.2 359.2,548.5 359.2,564 351,568.7" fill="#d9dbdd" />
<polygon points="351.2,571 359,566.5 359,575.5 351.2,580" fill="none" stroke="#8a7136" stroke-width="0.5"/>
<line x1="349.6" y1="552.4" x2="349.6" y2="583.2" stroke="#3f3016" stroke-width="0.6" />
<circle cx="348.5" cy="571.4" r="0.6" fill="#d9a520"/>
<circle cx="350.7" cy="570.2" r="0.6" fill="#d9a520"/>
<polygon points="364,544.1 386.3,531.3 386.3,562.1 364,574.9" fill="#5d4824" />
<polygon points="365.4,544.9 373.9,540 373.9,555.5 365.4,560.4" fill="#d9dbdd" />
<polygon points="365.6,562.7 373.8,558 373.8,567 365.6,571.7" fill="none" stroke="#8a7136" stroke-width="0.5"/>
<polygon points="376.5,538.5 385.1,533.6 385.1,549.1 376.5,554" fill="#d9dbdd" />
<polygon points="376.8,556.3 384.9,551.6 384.9,560.6 376.8,565.3" fill="none" stroke="#8a7136" stroke-width="0.5"/>
<line x1="375.1" y1="537.7" x2="375.1" y2="568.5" stroke="#3f3016" stroke-width="0.6" />
<circle cx="374" cy="556.7" r="0.6" fill="#d9a520"/>
<circle cx="376.2" cy="555.5" r="0.6" fill="#d9a520"/>
<polygon points="286,300.4 296.8,306 296.8,310.8 286,305.2" fill="#abadad" />
<polygon points="296.8,306 307.5,299.8 307.5,304.6 296.8,310.8" fill="#9d9f9f" />
<polygon points="286,300.4 297,293.8 307.5,299.8 296.8,306" fill="#c0c2c2" />
<line x1="301.9" y1="219.8" x2="312.4" y2="242.5" stroke="#9a9a9a" stroke-width="1.1" />
<line x1="312.4" y1="216" x2="299.3" y2="247.3" stroke="#9a9a9a" stroke-width="1.1" />
<line x1="312.4" y1="216" x2="325.5" y2="247.3" stroke="#9a9a9a" stroke-width="1.1" />
<line x1="322.9" y1="219.8" x2="312.4" y2="242.5" stroke="#9a9a9a" stroke-width="1.1" />
<line x1="299.3" y1="247.3" x2="312.4" y2="265.7" stroke="#9a9a9a" stroke-width="1.1" />
<line x1="312.4" y1="242.5" x2="294" y2="272.3" stroke="#9a9a9a" stroke-width="1.1" />
<line x1="312.4" y1="242.5" x2="330.7" y2="272.3" stroke="#9a9a9a" stroke-width="1.1" />
<line x1="325.5" y1="247.3" x2="312.4" y2="265.7" stroke="#9a9a9a" stroke-width="1.1" />
<line x1="294" y1="272.3" x2="312.4" y2="290.7" stroke="#9a9a9a" stroke-width="1.1" />
<line x1="312.4" y1="265.7" x2="290.7" y2="298.5" stroke="#9a9a9a" stroke-width="1.1" />
<line x1="312.4" y1="265.7" x2="334.1" y2="298.5" stroke="#9a9a9a" stroke-width="1.1" />
<line x1="330.7" y1="272.3" x2="312.4" y2="290.7" stroke="#9a9a9a" stroke-width="1.1" />
<line x1="290.7" y1="298.5" x2="312.4" y2="314.8" stroke="#9a9a9a" stroke-width="1.1" />
<line x1="312.4" y1="290.7" x2="287.9" y2="323.6" stroke="#9a9a9a" stroke-width="1.1" />
<line x1="312.4" y1="290.7" x2="336.8" y2="323.6" stroke="#9a9a9a" stroke-width="1.1" />
<line x1="334.1" y1="298.5" x2="312.4" y2="314.8" stroke="#9a9a9a" stroke-width="1.1" />
<line x1="287.9" y1="323.6" x2="312.4" y2="338.4" stroke="#9a9a9a" stroke-width="1.1" />
<line x1="312.4" y1="314.8" x2="285.9" y2="347.9" stroke="#9a9a9a" stroke-width="1.1" />
<line x1="312.4" y1="314.8" x2="338.9" y2="347.9" stroke="#9a9a9a" stroke-width="1.1" />
<line x1="336.8" y1="323.6" x2="312.4" y2="338.4" stroke="#9a9a9a" stroke-width="1.1" />
<polyline points="312.4,162.1 312.4,207.9 312.4,216 312.4,242.5 312.4,265.7 312.4,290.7 312.4,314.8 312.4,338.4" fill="none" stroke="#7e7e7e" stroke-width="1.8" />
<polygon points="301.9,219.8 312.4,216 322.9,219.8 312.4,223.6" fill="none" stroke="#7e7e7e" stroke-width="1.5"/>
<polygon points="299.3,247.3 312.4,242.5 325.5,247.3 312.4,252" fill="none" stroke="#7e7e7e" stroke-width="1.5"/>
<polygon points="294,272.3 312.4,265.7 330.7,272.3 312.4,278.9" fill="none" stroke="#7e7e7e" stroke-width="1.5"/>
<polygon points="290.7,298.5 312.4,290.7 334.1,298.5 312.4,306.4" fill="none" stroke="#7e7e7e" stroke-width="1.5"/>
<polygon points="287.9,323.6 312.4,314.8 336.8,323.6 312.4,332.4" fill="none" stroke="#7e7e7e" stroke-width="1.5"/>
<polygon points="285.9,347.9 312.4,338.4 338.9,347.9 312.4,357.5" fill="none" stroke="#7e7e7e" stroke-width="1.5"/>
<line x1="301.9" y1="219.8" x2="312.4" y2="252" stroke="#6a6a6a" stroke-width="1.5" />
<line x1="312.4" y1="223.6" x2="299.3" y2="247.3" stroke="#6a6a6a" stroke-width="1.5" />
<line x1="312.4" y1="223.6" x2="325.5" y2="247.3" stroke="#6a6a6a" stroke-width="1.5" />
<line x1="322.9" y1="219.8" x2="312.4" y2="252" stroke="#6a6a6a" stroke-width="1.5" />
<line x1="299.3" y1="247.3" x2="312.4" y2="278.9" stroke="#6a6a6a" stroke-width="1.5" />
<line x1="312.4" y1="252" x2="294" y2="272.3" stroke="#6a6a6a" stroke-width="1.5" />
<line x1="312.4" y1="252" x2="330.7" y2="272.3" stroke="#6a6a6a" stroke-width="1.5" />
<line x1="325.5" y1="247.3" x2="312.4" y2="278.9" stroke="#6a6a6a" stroke-width="1.5" />
<line x1="294" y1="272.3" x2="312.4" y2="306.4" stroke="#6a6a6a" stroke-width="1.5" />
<line x1="312.4" y1="278.9" x2="290.7" y2="298.5" stroke="#6a6a6a" stroke-width="1.5" />
<line x1="312.4" y1="278.9" x2="334.1" y2="298.5" stroke="#6a6a6a" stroke-width="1.5" />
<line x1="330.7" y1="272.3" x2="312.4" y2="306.4" stroke="#6a6a6a" stroke-width="1.5" />
<line x1="290.7" y1="298.5" x2="312.4" y2="332.4" stroke="#6a6a6a" stroke-width="1.5" />
<line x1="312.4" y1="306.4" x2="287.9" y2="323.6" stroke="#6a6a6a" stroke-width="1.5" />
<line x1="312.4" y1="306.4" x2="336.8" y2="323.6" stroke="#6a6a6a" stroke-width="1.5" />
<line x1="334.1" y1="298.5" x2="312.4" y2="332.4" stroke="#6a6a6a" stroke-width="1.5" />
<line x1="287.9" y1="323.6" x2="312.4" y2="357.5" stroke="#6a6a6a" stroke-width="1.5" />
<line x1="312.4" y1="332.4" x2="285.9" y2="347.9" stroke="#6a6a6a" stroke-width="1.5" />
<line x1="312.4" y1="332.4" x2="338.9" y2="347.9" stroke="#6a6a6a" stroke-width="1.5" />
<line x1="336.8" y1="323.6" x2="312.4" y2="357.5" stroke="#6a6a6a" stroke-width="1.5" />
<polyline points="304.5,165 302.6,211.5 301.9,219.8 299.3,247.3 294,272.3 290.7,298.5 287.9,323.6 285.9,347.9" fill="none" stroke="#6a6a6a" stroke-width="2.3" stroke-linejoin="round"/>
<polyline points="320.3,165 322.2,211.5 322.9,219.8 325.5,247.3 330.7,272.3 334.1,298.5 336.8,323.6 338.9,347.9" fill="none" stroke="#6a6a6a" stroke-width="2.3" stroke-linejoin="round"/>
<polyline points="312.4,167.8 312.4,215 312.4,223.6 312.4,252 312.4,278.9 312.4,306.4 312.4,332.4 312.4,357.5" fill="none" stroke="#5e5e5e" stroke-width="2.6" />
<polygon points="284.3,372.8 294.8,378.3 294.8,383.1 284.3,377.6" fill="#abadad" />
<polygon points="294.8,378.3 305.2,372.2 305.2,377 294.8,383.1" fill="#9d9f9f" />
<polygon points="284.3,372.8 295,366 305.2,372.2 294.8,378.3" fill="#c0c2c2" />
<polygon points="363.2,344.9 372.9,350 372.9,354.9 363.2,349.8" fill="#abadad" />
<polygon points="372.9,350 383,344 383,348.9 372.9,354.9" fill="#9d9f9f" />
<polygon points="363.2,344.9 372.9,337.9 383,344 372.9,350" fill="#c0c2c2" />
<linearGradient id="pg" x1="0" y1="0" x2="1" y2="0"><stop offset="0" stop-color="#6f6f6f"/><stop offset="0.45" stop-color="#a2a2a2"/><stop offset="1" stop-color="#6b6b6b"/></linearGradient>
<linearGradient id="cpg" x1="0" y1="0" x2="1" y2="0"><stop offset="0" stop-color="#fbfbfb"/><stop offset="0.6" stop-color="#ececec"/><stop offset="1" stop-color="#cfcfcf"/></linearGradient>
<polygon points="297.5,140 302.5,140 309.3,153.5 304.7,155.8" fill="#a9a9a9" stroke="#7a7a7a" stroke-width="0.6" stroke-linejoin="round"/>
<polygon points="325.1,140 320.1,140 313.3,153.5 317.8,155.8" fill="#a9a9a9" stroke="#7a7a7a" stroke-width="0.6" stroke-linejoin="round"/>
<path d="M293.1,169.9C292.8,173.2 291.4,183.5 291.3,189.5C291.1,195.5 291.3,201.3 292.2,205.8C293.2,210.2 295.6,215.2 297,216.2C298.3,217.2 299.6,213.3 300.4,211.9C301.2,210.5 301.5,208.5 301.7,207.8" fill="none" stroke="#555" stroke-width="1.1"/>
<path d="M329.9,169.9C330.2,173.2 331.6,183.5 331.7,189.5C331.8,195.5 331.7,201.3 330.7,205.8C329.8,210.2 327.4,215.2 326,216.2C324.6,217.2 323.4,213.3 322.6,211.9C321.8,210.5 321.5,208.5 321.3,207.8" fill="none" stroke="#555" stroke-width="1.1"/>
<rect x="307.7" y="98.2" width="7" height="4.5" rx="1.5" fill="#7e7e7e"/>
<ellipse cx="311.2" cy="99" rx="2.6" ry="1.1" fill="#d8d8d8"/>
<polygon points="301.1,101.9 321.1,101.9 321.1,118 301.1,118" fill="#efefef" stroke="#7a7a7a" stroke-width="0.6" stroke-linejoin="round"/>
<rect x="291" y="109.5" width="7.3" height="71.7" rx="3.6" fill="url(#pg)"/>
<ellipse cx="294.6" cy="110.1" rx="2.4" ry="1.2" fill="#dcdcdc"/>
<rect x="323.9" y="109.5" width="7.3" height="71.7" rx="3.6" fill="url(#pg)"/>
<ellipse cx="327.6" cy="110.1" rx="2.4" ry="1.2" fill="#dcdcdc"/>
<polygon points="284.8,115.9 297.7,120.5 301.7,117.1 301.7,120 297.7,123.8 284.8,119.1" fill="#e9e9e9" stroke="#7a7a7a" stroke-width="0.6" stroke-linejoin="round"/>
<polygon points="337.8,115.9 324.8,120.5 320.9,117.1 320.9,120 324.8,123.8 337.8,119.1" fill="#e9e9e9" stroke="#7a7a7a" stroke-width="0.6" stroke-linejoin="round"/>
<polygon points="272,109.8 283.6,106.5 287.2,109.2 291.5,164.3 286.7,172.7 283.3,171" fill="#d0d0d0" stroke="#7a7a7a" stroke-width="0.6" stroke-linejoin="round"/>
<polygon points="274,111.2 284.2,108.5 290.3,164.3 286,170.1" fill="#f1f1f1" />
<circle cx="280" cy="115.4" r="2.2" fill="#cfcfcf" stroke="#222" stroke-width="0.9"/>
<polygon points="350.6,109.8 339,106.5 335.3,109.2 331.1,164.3 335.9,172.7 339.3,171" fill="#d0d0d0" stroke="#7a7a7a" stroke-width="0.6" stroke-linejoin="round"/>
<polygon points="348.6,111.2 338.4,108.5 332.3,164.3 336.6,170.1" fill="#f1f1f1" />
<circle cx="342.6" cy="115.4" r="2.2" fill="#cfcfcf" stroke="#222" stroke-width="0.9"/>
<polygon points="287,165.6 301.1,163.8 302.5,166.5 289.3,170.1" fill="#f0f0f0" stroke="#444" stroke-width="0.7" stroke-linejoin="round"/>
<polygon points="335.6,165.6 321.5,163.8 320.1,166.5 333.3,170.1" fill="#f0f0f0" stroke="#444" stroke-width="0.7" stroke-linejoin="round"/>
<ellipse cx="311.5" cy="177.1" rx="6.2" ry="3.5" fill="#2e2e2e"/>
<rect x="309.5" y="173.2" width="4.1" height="6.5" rx="1.5" fill="#8c8c8c"/>
<rect x="307.7" y="108.4" width="7" height="5.6" rx="1.5" fill="#7e7e7e"/>
<ellipse cx="311.2" cy="109.2" rx="2.6" ry="1.1" fill="#d8d8d8"/>
<polygon points="301.4,112.9 321.1,112.9 321.1,115.1 315,173.5 308.2,173.5 301.4,115.1" fill="url(#cpg)" stroke="#7a7a7a" stroke-width="0.6" stroke-linejoin="round"/>
<path d="M299.6,187.2C299.9,186.5 300.6,184.3 301.4,183.4C302.2,182.4 303.5,181.2 304.5,181.3C305.5,181.4 306.7,182.8 307.3,183.8C307.9,184.7 308,186.6 308.1,187.2" fill="none" stroke="#4a4a4a" stroke-width="0.9"/>
<path d="M323.4,187.2C323.1,186.5 322.4,184.3 321.6,183.4C320.8,182.4 319.5,181.2 318.5,181.3C317.5,181.4 316.3,182.8 315.6,183.8C315,184.7 315,186.6 314.8,187.2" fill="none" stroke="#4a4a4a" stroke-width="0.9"/>
<rect x="296.4" y="187.2" width="29.2" height="20.0" rx="1.6" fill="#ededed" stroke="#484848" stroke-width="1.1"/>
<rect x="298.6" y="189.4" width="24.8" height="15.8" fill="#f4f4f4"/><rect x="302" y="192.4" width="17.2" height="10.4" fill="#ffffff"/>
<rect x="306.3" y="208" width="2.6" height="6.5" fill="#2e2e2e" transform="rotate(-12 307.5 208)"/>
<path d="M222.6,96.6A53.6,40.4 0 0 0 222.6,177.4A44.8,40.4 0 0 1 222.6,96.6Z" fill="#ec6a06" stroke="#ec6a06" stroke-width="0.7" stroke-linejoin="round"/>
<path d="M240.4,109.3A43.1,27.9 0 0 0 240.4,165.1A35.6,27.9 0 0 1 240.4,109.3Z" fill="#ec6a06" stroke="#ec6a06" stroke-width="0.7" stroke-linejoin="round"/>
<path d="M257.8,115.6A32.9,20.4 0 0 0 257.8,156.4A27.9,20.4 0 0 1 257.8,115.6Z" fill="#ec6a06" stroke="#ec6a06" stroke-width="0.7" stroke-linejoin="round"/>
<path d="M405.5,100.3A53.6,40.4 0 0 1 405.5,181.1A44.4,40.4 0 0 0 405.5,100.3Z" fill="#ec6a06" stroke="#ec6a06" stroke-width="0.7" stroke-linejoin="round"/>
<path d="M387.4,112.4A43.3,28.1 0 0 1 387.4,168.6A36.1,28.1 0 0 0 387.4,112.4Z" fill="#ec6a06" stroke="#ec6a06" stroke-width="0.7" stroke-linejoin="round"/>
<path d="M370.3,119.2A32.7,20.1 0 0 1 370.3,159.4A27.5,20.1 0 0 0 370.3,119.2Z" fill="#ec6a06" stroke="#ec6a06" stroke-width="0.7" stroke-linejoin="round"/>
<use href="#tree" x="97.4" y="589.2" />
<use href="#tree" x="186.5" y="644" />
<use href="#tree" x="297.7" y="695.6" />
<use href="#tree" x="510.4" y="489.6" />
<use href="#house" transform="translate(272 16) scale(0.331)"/>
<use href="#house" transform="translate(198 91.5) scale(0.331)"/>
<use href="#house" transform="translate(413.7 120.7) scale(0.331)"/>
<use href="#house" transform="translate(339.5 195.8) scale(0.331)"/>
<use href="#house" transform="translate(263.1 386.1) scale(0.331)"/>
<use href="#house" transform="translate(189.2 461.4) scale(0.331)"/>
<use href="#house" transform="translate(115 532.5) scale(0.331)"/>
<use href="#tree" x="838" y="511" />
<polygon points="779.1,293.5 826.7,293.5 1383.8,323.1 1383.8,772.9 916.9,772.9 779.1,339.5" fill="url(#coneg)" />
<polygon points="779.1,293.5 916.9,323.1 916.9,409.8 826.7,339.5" fill="#d8d8d8" fill-opacity="0.07"/>
<line x1="826.7" y1="293.5" x2="1383.8" y2="323.1" stroke="#bcbcbc" stroke-width="1.1" />
<line x1="779.1" y1="293.5" x2="916.9" y2="323.1" stroke="#bcbcbc" stroke-width="1.1" />
<line x1="826.7" y1="339.5" x2="1383.8" y2="772.9" stroke="#bcbcbc" stroke-width="1.1" />
<line x1="779.1" y1="339.5" x2="916.9" y2="772.9" stroke="#bcbcbc" stroke-width="1.1" />
<rect x="916.85" y="323.15" width="466.9" height="449.7" fill="#fff" stroke="#bdbfc1" stroke-width="1.9"/>
<rect x="779.1" y="293.5" width="47.6" height="46" fill="#dcdddf" fill-opacity="0.93" stroke="#8c8c8c" stroke-width="1"/>
<use href="#house"/>
</svg></body></html>
